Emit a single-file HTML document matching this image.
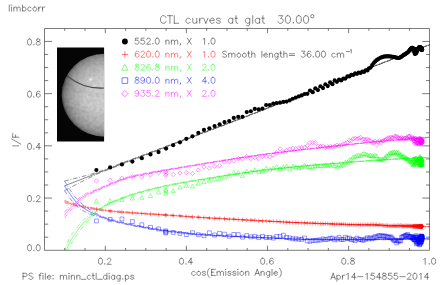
<!DOCTYPE html>
<html><head><meta charset="utf-8"><title>CTL curves</title>
<style>html,body{margin:0;padding:0;background:#fff;}body{width:443px;height:285px;overflow:hidden;font-family:"Liberation Sans",sans-serif;}svg{display:block}</style>
</head><body>
<svg width="443" height="285" viewBox="0 0 443 285">
<rect width="443" height="285" fill="#fff"/>
<defs>
<radialGradient id="pg" gradientUnits="userSpaceOnUse" cx="105" cy="95.2" r="42.6">
<stop offset="0" stop-color="#d3d3d3"/><stop offset="0.45" stop-color="#c8c8c8"/><stop offset="0.7" stop-color="#b0b0b0"/><stop offset="0.86" stop-color="#939393"/><stop offset="0.95" stop-color="#777777"/><stop offset="1" stop-color="#4c4c4c"/>
</radialGradient>
<clipPath id="ic"><rect x="57" y="47.6" width="47.1" height="93.9"/></clipPath>
<clipPath id="dc"><ellipse cx="104.6" cy="95.2" rx="42.9" ry="41.5"/></clipPath>
<filter id="nz" x="0" y="0" width="100%" height="100%"><feTurbulence type="fractalNoise" baseFrequency="0.28" numOctaves="3" seed="5"/><feColorMatrix type="matrix" values="0 0 0 0 1  0 0 0 0 1  0 0 0 0 1  1.6 0 0 0 -0.55"/></filter>
<filter id="nz2" x="0" y="0" width="100%" height="100%"><feTurbulence type="fractalNoise" baseFrequency="0.3" numOctaves="3" seed="11"/><feColorMatrix type="matrix" values="0 0 0 0 0  0 0 0 0 0  0 0 0 0 0  0 1.6 0 0 -0.55"/></filter>
</defs>
<g clip-path="url(#ic)">
<rect x="56" y="47" width="50" height="96" fill="#050505"/>
<ellipse cx="104.6" cy="95.2" rx="42.9" ry="41.5" fill="url(#pg)"/>
<g clip-path="url(#dc)">
<rect x="57" y="47" width="48" height="95" filter="url(#nz)" opacity="0.13"/>
<rect x="57" y="47" width="48" height="95" filter="url(#nz2)" opacity="0.11"/>
<path d="M62 70 Q80 86 106 88.6 L106 50 L62 50Z" fill="#fff" opacity="0.05"/>
<path d="M62 82 Q84 96.5 106 95" stroke="#000" stroke-width="5" fill="none" opacity="0.03"/>
<path d="M60 104 Q84 117 106 116" stroke="#000" stroke-width="6" fill="none" opacity="0.025"/>
<path d="M62 93 Q84 107 106 105.5" stroke="#fff" stroke-width="5" fill="none" opacity="0.04"/>
<path d="M66.6 75.6 Q84 89.6 105 88" stroke="#424242" stroke-width="1.15" fill="none"/>
<circle cx="90.6" cy="79.4" r="1.7" fill="#f4f4f4" opacity="0.45"/><circle cx="90.6" cy="79.4" r="0.9" fill="#f6f6f6" opacity="0.8"/>
</g></g>
<path d="M44.5 28.5H429.5V250.3H44.5ZM64.73 250.25v-2.25M64.73 28.65v2.25M85.01 250.25v-2.25M85.01 28.65v2.25M105.29 250.25v-4.5M105.29 28.65v4.5M125.57 250.25v-2.25M125.57 28.65v2.25M145.85 250.25v-2.25M145.85 28.65v2.25M166.12 250.25v-2.25M166.12 28.65v2.25M186.4 250.25v-4.5M186.4 28.65v4.5M206.68 250.25v-2.25M206.68 28.65v2.25M226.96 250.25v-2.25M226.96 28.65v2.25M247.24 250.25v-2.25M247.24 28.65v2.25M267.52 250.25v-4.5M267.52 28.65v4.5M287.8 250.25v-2.25M287.8 28.65v2.25M308.08 250.25v-2.25M308.08 28.65v2.25M328.36 250.25v-2.25M328.36 28.65v2.25M348.63 250.25v-4.5M348.63 28.65v4.5M368.91 250.25v-2.25M368.91 28.65v2.25M389.19 250.25v-2.25M389.19 28.65v2.25M409.47 250.25v-2.25M409.47 28.65v2.25M44.45 237.2h3.75M429.75 237.2h-3.75M44.45 224.15h3.75M429.75 224.15h-3.75M44.45 211.1h3.75M429.75 211.1h-3.75M44.45 198.05h7.5M429.75 198.05h-7.5M44.45 185h3.75M429.75 185h-3.75M44.45 171.95h3.75M429.75 171.95h-3.75M44.45 158.9h3.75M429.75 158.9h-3.75M44.45 145.85h7.5M429.75 145.85h-7.5M44.45 132.8h3.75M429.75 132.8h-3.75M44.45 119.75h3.75M429.75 119.75h-3.75M44.45 106.7h3.75M429.75 106.7h-3.75M44.45 93.65h7.5M429.75 93.65h-7.5M44.45 80.6h3.75M429.75 80.6h-3.75M44.45 67.55h3.75M429.75 67.55h-3.75M44.45 54.5h3.75M429.75 54.5h-3.75M44.45 41.45h7.5M429.75 41.45h-7.5" stroke="#2a2a2a" stroke-width="0.62" fill="none"/>
<path d="M29.25 244.73L28.38 245.02L27.81 245.89L27.52 247.33L27.52 248.2L27.81 249.64L28.38 250.51L29.25 250.8L29.83 250.8L30.7 250.51L31.27 249.64L31.56 248.2L31.56 247.33L31.27 245.89L30.7 245.02L29.83 244.73L29.25 244.73M33.88 250.22L33.59 250.51L33.88 250.8L34.16 250.51L33.88 250.22M37.92 244.73L37.05 245.02L36.48 245.89L36.19 247.33L36.19 248.2L36.48 249.64L37.05 250.51L37.92 250.8L38.5 250.8L39.37 250.51L39.94 249.64L40.23 248.2L40.23 247.33L39.94 245.89L39.37 245.02L38.5 244.73L37.92 244.73" stroke="#2a2a2a" stroke-width="0.56" fill="none" stroke-linecap="round" stroke-linejoin="round"/>
<path d="M29.25 195.58L28.38 195.87L27.81 196.74L27.52 198.18L27.52 199.05L27.81 200.49L28.38 201.36L29.25 201.65L29.83 201.65L30.7 201.36L31.27 200.49L31.56 199.05L31.56 198.18L31.27 196.74L30.7 195.87L29.83 195.58L29.25 195.58M33.88 201.07L33.59 201.36L33.88 201.65L34.16 201.36L33.88 201.07M36.48 197.03L36.48 196.74L36.77 196.16L37.05 195.87L37.63 195.58L38.79 195.58L39.37 195.87L39.66 196.16L39.94 196.74L39.94 197.31L39.66 197.89L39.08 198.76L36.19 201.65L40.23 201.65" stroke="#2a2a2a" stroke-width="0.56" fill="none" stroke-linecap="round" stroke-linejoin="round"/>
<path d="M29.25 143.38L28.38 143.67L27.81 144.54L27.52 145.98L27.52 146.85L27.81 148.29L28.38 149.16L29.25 149.45L29.83 149.45L30.7 149.16L31.27 148.29L31.56 146.85L31.56 145.98L31.27 144.54L30.7 143.67L29.83 143.38L29.25 143.38M33.88 148.87L33.59 149.16L33.88 149.45L34.16 149.16L33.88 148.87M39.08 143.38L36.19 147.43L40.52 147.43M39.08 143.38L39.08 149.45" stroke="#2a2a2a" stroke-width="0.56" fill="none" stroke-linecap="round" stroke-linejoin="round"/>
<path d="M29.25 91.18L28.38 91.47L27.81 92.34L27.52 93.78L27.52 94.65L27.81 96.09L28.38 96.96L29.25 97.25L29.83 97.25L30.7 96.96L31.27 96.09L31.56 94.65L31.56 93.78L31.27 92.34L30.7 91.47L29.83 91.18L29.25 91.18M33.88 96.67L33.59 96.96L33.88 97.25L34.16 96.96L33.88 96.67M39.94 92.05L39.66 91.47L38.79 91.18L38.21 91.18L37.34 91.47L36.77 92.34L36.48 93.78L36.48 95.23L36.77 96.38L37.34 96.96L38.21 97.25L38.5 97.25L39.37 96.96L39.94 96.38L40.23 95.52L40.23 95.23L39.94 94.36L39.37 93.78L38.5 93.49L38.21 93.49L37.34 93.78L36.77 94.36L36.48 95.23" stroke="#2a2a2a" stroke-width="0.56" fill="none" stroke-linecap="round" stroke-linejoin="round"/>
<path d="M29.25 38.98L28.38 39.27L27.81 40.14L27.52 41.58L27.52 42.45L27.81 43.89L28.38 44.76L29.25 45.05L29.83 45.05L30.7 44.76L31.27 43.89L31.56 42.45L31.56 41.58L31.27 40.14L30.7 39.27L29.83 38.98L29.25 38.98M33.88 44.47L33.59 44.76L33.88 45.05L34.16 44.76L33.88 44.47M37.63 38.98L36.77 39.27L36.48 39.85L36.48 40.43L36.77 41L37.34 41.29L38.5 41.58L39.37 41.87L39.94 42.45L40.23 43.03L40.23 43.89L39.94 44.47L39.66 44.76L38.79 45.05L37.63 45.05L36.77 44.76L36.48 44.47L36.19 43.89L36.19 43.03L36.48 42.45L37.05 41.87L37.92 41.58L39.08 41.29L39.66 41L39.94 40.43L39.94 39.85L39.66 39.27L38.79 38.98L37.63 38.98" stroke="#2a2a2a" stroke-width="0.56" fill="none" stroke-linecap="round" stroke-linejoin="round"/>
<path d="M100.16 258.23L99.3 258.52L98.72 259.39L98.43 260.83L98.43 261.7L98.72 263.14L99.3 264.01L100.16 264.3L100.74 264.3L101.61 264.01L102.19 263.14L102.48 261.7L102.48 260.83L102.19 259.39L101.61 258.52L100.74 258.23L100.16 258.23M104.79 263.72L104.5 264.01L104.79 264.3L105.08 264.01L104.79 263.72M107.39 259.68L107.39 259.39L107.68 258.81L107.97 258.52L108.54 258.23L109.7 258.23L110.28 258.52L110.57 258.81L110.86 259.39L110.86 259.97L110.57 260.54L109.99 261.41L107.1 264.3L111.15 264.3" stroke="#2a2a2a" stroke-width="0.56" fill="none" stroke-linecap="round" stroke-linejoin="round"/>
<path d="M181.28 258.23L180.41 258.52L179.83 259.39L179.55 260.83L179.55 261.7L179.83 263.14L180.41 264.01L181.28 264.3L181.86 264.3L182.72 264.01L183.3 263.14L183.59 261.7L183.59 260.83L183.3 259.39L182.72 258.52L181.86 258.23L181.28 258.23M185.9 263.72L185.61 264.01L185.9 264.3L186.19 264.01L185.9 263.72M191.11 258.23L188.22 262.28L192.55 262.28M191.11 258.23L191.11 264.3" stroke="#2a2a2a" stroke-width="0.56" fill="none" stroke-linecap="round" stroke-linejoin="round"/>
<path d="M262.39 258.23L261.53 258.52L260.95 259.39L260.66 260.83L260.66 261.7L260.95 263.14L261.53 264.01L262.39 264.3L262.97 264.3L263.84 264.01L264.42 263.14L264.71 261.7L264.71 260.83L264.42 259.39L263.84 258.52L262.97 258.23L262.39 258.23M267.02 263.72L266.73 264.01L267.02 264.3L267.31 264.01L267.02 263.72M273.09 259.1L272.8 258.52L271.93 258.23L271.35 258.23L270.49 258.52L269.91 259.39L269.62 260.83L269.62 262.28L269.91 263.43L270.49 264.01L271.35 264.3L271.64 264.3L272.51 264.01L273.09 263.43L273.38 262.57L273.38 262.28L273.09 261.41L272.51 260.83L271.64 260.54L271.35 260.54L270.49 260.83L269.91 261.41L269.62 262.28" stroke="#2a2a2a" stroke-width="0.56" fill="none" stroke-linecap="round" stroke-linejoin="round"/>
<path d="M343.51 258.23L342.64 258.52L342.07 259.39L341.78 260.83L341.78 261.7L342.07 263.14L342.64 264.01L343.51 264.3L344.09 264.3L344.96 264.01L345.53 263.14L345.82 261.7L345.82 260.83L345.53 259.39L344.96 258.52L344.09 258.23L343.51 258.23M348.13 263.72L347.85 264.01L348.13 264.3L348.42 264.01L348.13 263.72M351.89 258.23L351.02 258.52L350.74 259.1L350.74 259.68L351.02 260.25L351.6 260.54L352.76 260.83L353.63 261.12L354.2 261.7L354.49 262.28L354.49 263.14L354.2 263.72L353.91 264.01L353.05 264.3L351.89 264.3L351.02 264.01L350.74 263.72L350.45 263.14L350.45 262.28L350.74 261.7L351.31 261.12L352.18 260.83L353.34 260.54L353.91 260.25L354.2 259.68L354.2 259.1L353.91 258.52L353.05 258.23L351.89 258.23" stroke="#2a2a2a" stroke-width="0.56" fill="none" stroke-linecap="round" stroke-linejoin="round"/>
<path d="M423.76 259.39L424.34 259.1L425.2 258.23L425.2 264.3M429.25 263.72L428.96 264.01L429.25 264.3L429.54 264.01L429.25 263.72M433.3 258.23L432.43 258.52L431.85 259.39L431.56 260.83L431.56 261.7L431.85 263.14L432.43 264.01L433.3 264.3L433.87 264.3L434.74 264.01L435.32 263.14L435.61 261.7L435.61 260.83L435.32 259.39L434.74 258.52L433.87 258.23L433.3 258.23" stroke="#2a2a2a" stroke-width="0.56" fill="none" stroke-linecap="round" stroke-linejoin="round"/>
<path d="M9.26 5.03L9.26 11.1M11.28 5.03L11.57 5.32L11.86 5.03L11.57 4.74L11.28 5.03M11.57 7.05L11.57 11.1M13.88 7.05L13.88 11.1M13.88 8.21L14.75 7.34L15.32 7.05L16.19 7.05L16.77 7.34L17.06 8.21L17.06 11.1M17.06 8.21L17.93 7.34L18.5 7.05L19.37 7.05L19.95 7.34L20.24 8.21L20.24 11.1M22.55 5.03L22.55 11.1M22.55 7.92L23.13 7.34L23.71 7.05L24.57 7.05L25.15 7.34L25.73 7.92L26.02 8.79L26.02 9.37L25.73 10.23L25.15 10.81L24.57 11.1L23.71 11.1L23.13 10.81L22.55 10.23M31.22 7.92L30.64 7.34L30.06 7.05L29.2 7.05L28.62 7.34L28.04 7.92L27.75 8.79L27.75 9.37L28.04 10.23L28.62 10.81L29.2 11.1L30.06 11.1L30.64 10.81L31.22 10.23M34.4 7.05L33.82 7.34L33.24 7.92L32.95 8.79L32.95 9.37L33.24 10.23L33.82 10.81L34.4 11.1L35.27 11.1L35.84 10.81L36.42 10.23L36.71 9.37L36.71 8.79L36.42 7.92L35.84 7.34L35.27 7.05L34.4 7.05M38.73 7.05L38.73 11.1M38.73 8.79L39.02 7.92L39.6 7.34L40.18 7.05L41.05 7.05M42.49 7.05L42.49 11.1M42.49 8.79L42.78 7.92L43.36 7.34L43.94 7.05L44.8 7.05" stroke="#2a2a2a" stroke-width="0.56" fill="none" stroke-linecap="round" stroke-linejoin="round"/>
<path d="M165.93 17.49L165.57 16.77L164.84 16.04L164.12 15.68L162.67 15.68L161.94 16.04L161.22 16.77L160.85 17.49L160.49 18.58L160.49 20.4L160.85 21.48L161.22 22.21L161.94 22.94L162.67 23.3L164.12 23.3L164.84 22.94L165.57 22.21L165.93 21.48M169.93 15.68L169.93 23.3M167.39 15.68L172.47 15.68M174.28 15.68L174.28 23.3M174.28 23.3L178.64 23.3M190.25 19.31L189.53 18.58L188.8 18.22L187.71 18.22L186.99 18.58L186.26 19.31L185.9 20.4L185.9 21.12L186.26 22.21L186.99 22.94L187.71 23.3L188.8 23.3L189.53 22.94L190.25 22.21M192.8 18.22L192.8 21.85L193.16 22.94L193.88 23.3L194.97 23.3L195.7 22.94L196.79 21.85M196.79 18.22L196.79 23.3M199.69 18.22L199.69 23.3M199.69 20.4L200.06 19.31L200.78 18.58L201.51 18.22L202.6 18.22M203.69 18.22L205.86 23.3M208.04 18.22L205.86 23.3M209.86 20.4L214.21 20.4L214.21 19.67L213.85 18.94L213.49 18.58L212.76 18.22L211.67 18.22L210.95 18.58L210.22 19.31L209.86 20.4L209.86 21.12L210.22 22.21L210.95 22.94L211.67 23.3L212.76 23.3L213.49 22.94L214.21 22.21M220.38 19.31L220.02 18.58L218.93 18.22L217.84 18.22L216.75 18.58L216.39 19.31L216.75 20.03L217.48 20.4L219.3 20.76L220.02 21.12L220.38 21.85L220.38 22.21L220.02 22.94L218.93 23.3L217.84 23.3L216.75 22.94L216.39 22.21M232.73 18.22L232.73 23.3M232.73 19.31L232 18.58L231.27 18.22L230.19 18.22L229.46 18.58L228.73 19.31L228.37 20.4L228.37 21.12L228.73 22.21L229.46 22.94L230.19 23.3L231.27 23.3L232 22.94L232.73 22.21M235.99 15.68L235.99 21.85L236.36 22.94L237.08 23.3L237.81 23.3M234.9 18.22L237.44 18.22M249.79 18.22L249.79 24.03L249.42 25.12L249.06 25.48L248.34 25.84L247.25 25.84L246.52 25.48M249.79 19.31L249.06 18.58L248.34 18.22L247.25 18.22L246.52 18.58L245.79 19.31L245.43 20.4L245.43 21.12L245.79 22.21L246.52 22.94L247.25 23.3L248.34 23.3L249.06 22.94L249.79 22.21M252.69 15.68L252.69 23.3M259.59 18.22L259.59 23.3M259.59 19.31L258.86 18.58L258.14 18.22L257.05 18.22L256.32 18.58L255.6 19.31L255.23 20.4L255.23 21.12L255.6 22.21L256.32 22.94L257.05 23.3L258.14 23.3L258.86 22.94L259.59 22.21M262.86 15.68L262.86 21.85L263.22 22.94L263.94 23.3L264.67 23.3M261.77 18.22L264.31 18.22M278.83 15.68L282.82 15.68L280.64 18.58L281.73 18.58L282.46 18.94L282.82 19.31L283.18 20.4L283.18 21.12L282.82 22.21L282.09 22.94L281 23.3L279.92 23.3L278.83 22.94L278.46 22.57L278.1 21.85M287.54 15.68L286.45 16.04L285.72 17.13L285.36 18.94L285.36 20.03L285.72 21.85L286.45 22.94L287.54 23.3L288.26 23.3L289.35 22.94L290.08 21.85L290.44 20.03L290.44 18.94L290.08 17.13L289.35 16.04L288.26 15.68L287.54 15.68M293.35 22.57L292.98 22.94L293.35 23.3L293.71 22.94L293.35 22.57M298.43 15.68L297.34 16.04L296.61 17.13L296.25 18.94L296.25 20.03L296.61 21.85L297.34 22.94L298.43 23.3L299.15 23.3L300.24 22.94L300.97 21.85L301.33 20.03L301.33 18.94L300.97 17.13L300.24 16.04L299.15 15.68L298.43 15.68M305.69 15.68L304.6 16.04L303.87 17.13L303.51 18.94L303.51 20.03L303.87 21.85L304.6 22.94L305.69 23.3L306.41 23.3L307.5 22.94L308.23 21.85L308.59 20.03L308.59 18.94L308.23 17.13L307.5 16.04L306.41 15.68L305.69 15.68" stroke="#2a2a2a" stroke-width="0.56" fill="none" stroke-linecap="round" stroke-linejoin="round"/>
<circle cx="312.3" cy="16.3" r="1.65" stroke="#2a2a2a" stroke-width="0.56" fill="none"/>
<path d="M12.73 145.88L18.8 145.88M11.58 138.94L20.82 144.15M12.73 137.21L18.8 137.21M12.73 137.21L12.73 133.45M15.62 137.21L15.62 134.9" stroke="#2a2a2a" stroke-width="0.56" fill="none" stroke-linecap="round" stroke-linejoin="round"/>
<path d="M195.13 272.22L194.55 271.64L193.97 271.35L193.11 271.35L192.53 271.64L191.95 272.22L191.66 273.09L191.66 273.67L191.95 274.53L192.53 275.11L193.11 275.4L193.97 275.4L194.55 275.11L195.13 274.53M198.31 271.35L197.73 271.64L197.15 272.22L196.86 273.09L196.86 273.67L197.15 274.53L197.73 275.11L198.31 275.4L199.17 275.4L199.75 275.11L200.33 274.53L200.62 273.67L200.62 273.09L200.33 272.22L199.75 271.64L199.17 271.35L198.31 271.35M205.53 272.22L205.24 271.64L204.38 271.35L203.51 271.35L202.64 271.64L202.35 272.22L202.64 272.8L203.22 273.09L204.67 273.38L205.24 273.67L205.53 274.24L205.53 274.53L205.24 275.11L204.38 275.4L203.51 275.4L202.64 275.11L202.35 274.53M209.58 268.17L209 268.75L208.42 269.62L207.84 270.78L207.56 272.22L207.56 273.38L207.84 274.82L208.42 275.98L209 276.84L209.58 277.42M211.6 269.33L211.6 275.4M211.6 269.33L215.36 269.33M211.6 272.22L213.91 272.22M211.6 275.4L215.36 275.4M217.09 271.35L217.09 275.4M217.09 272.51L217.96 271.64L218.54 271.35L219.4 271.35L219.98 271.64L220.27 272.51L220.27 275.4M220.27 272.51L221.14 271.64L221.72 271.35L222.58 271.35L223.16 271.64L223.45 272.51L223.45 275.4M225.47 269.33L225.76 269.62L226.05 269.33L225.76 269.04L225.47 269.33M225.76 271.35L225.76 275.4M230.96 272.22L230.68 271.64L229.81 271.35L228.94 271.35L228.07 271.64L227.79 272.22L228.07 272.8L228.65 273.09L230.1 273.38L230.68 273.67L230.96 274.24L230.96 274.53L230.68 275.11L229.81 275.4L228.94 275.4L228.07 275.11L227.79 274.53M235.88 272.22L235.59 271.64L234.72 271.35L233.85 271.35L232.99 271.64L232.7 272.22L232.99 272.8L233.57 273.09L235.01 273.38L235.59 273.67L235.88 274.24L235.88 274.53L235.59 275.11L234.72 275.4L233.85 275.4L232.99 275.11L232.7 274.53M237.61 269.33L237.9 269.62L238.19 269.33L237.9 269.04L237.61 269.33M237.9 271.35L237.9 275.4M241.37 271.35L240.79 271.64L240.21 272.22L239.92 273.09L239.92 273.67L240.21 274.53L240.79 275.11L241.37 275.4L242.24 275.4L242.81 275.11L243.39 274.53L243.68 273.67L243.68 273.09L243.39 272.22L242.81 271.64L242.24 271.35L241.37 271.35M245.7 271.35L245.7 275.4M245.7 272.51L246.57 271.64L247.15 271.35L248.02 271.35L248.59 271.64L248.88 272.51L248.88 275.4M257.26 269.33L254.95 275.4M257.26 269.33L259.58 275.4M255.82 273.38L258.71 273.38M261.02 271.35L261.02 275.4M261.02 272.51L261.89 271.64L262.47 271.35L263.33 271.35L263.91 271.64L264.2 272.51L264.2 275.4M269.69 271.35L269.69 275.98L269.4 276.84L269.11 277.13L268.53 277.42L267.67 277.42L267.09 277.13M269.69 272.22L269.11 271.64L268.53 271.35L267.67 271.35L267.09 271.64L266.51 272.22L266.22 273.09L266.22 273.67L266.51 274.53L267.09 275.11L267.67 275.4L268.53 275.4L269.11 275.11L269.69 274.53M272 269.33L272 275.4M274.03 273.09L277.49 273.09L277.49 272.51L277.2 271.93L276.92 271.64L276.34 271.35L275.47 271.35L274.89 271.64L274.31 272.22L274.03 273.09L274.03 273.67L274.31 274.53L274.89 275.11L275.47 275.4L276.34 275.4L276.92 275.11L277.49 274.53M279.23 268.17L279.81 268.75L280.38 269.62L280.96 270.78L281.25 272.22L281.25 273.38L280.96 274.82L280.38 275.98L279.81 276.84L279.23 277.42" stroke="#2a2a2a" stroke-width="0.56" fill="none" stroke-linecap="round" stroke-linejoin="round"/>
<path d="M23.06 273.23L23.06 279.3M23.06 273.23L25.66 273.23L26.52 273.52L26.81 273.81L27.1 274.39L27.1 275.25L26.81 275.83L26.52 276.12L25.66 276.41L23.06 276.41M32.88 274.1L32.3 273.52L31.44 273.23L30.28 273.23L29.41 273.52L28.84 274.1L28.84 274.68L29.12 275.25L29.41 275.54L29.99 275.83L31.73 276.41L32.3 276.7L32.59 276.99L32.88 277.57L32.88 278.43L32.3 279.01L31.44 279.3L30.28 279.3L29.41 279.01L28.84 278.43M41.26 273.23L40.69 273.23L40.11 273.52L39.82 274.39L39.82 279.3M38.95 275.25L40.97 275.25M42.71 273.23L43 273.52L43.29 273.23L43 272.94L42.71 273.23M43 275.25L43 279.3M45.31 273.23L45.31 279.3M47.33 276.99L50.8 276.99L50.8 276.41L50.51 275.83L50.22 275.54L49.64 275.25L48.78 275.25L48.2 275.54L47.62 276.12L47.33 276.99L47.33 277.57L47.62 278.43L48.2 279.01L48.78 279.3L49.64 279.3L50.22 279.01L50.8 278.43M53.11 275.25L52.82 275.54L53.11 275.83L53.4 275.54L53.11 275.25M53.11 278.72L52.82 279.01L53.11 279.3L53.4 279.01L53.11 278.72M60.34 275.25L60.34 279.3M60.34 276.41L61.2 275.54L61.78 275.25L62.65 275.25L63.23 275.54L63.52 276.41L63.52 279.3M63.52 276.41L64.38 275.54L64.96 275.25L65.83 275.25L66.41 275.54L66.69 276.41L66.69 279.3M68.72 273.23L69.01 273.52L69.3 273.23L69.01 272.94L68.72 273.23M69.01 275.25L69.01 279.3M71.32 275.25L71.32 279.3M71.32 276.41L72.19 275.54L72.76 275.25L73.63 275.25L74.21 275.54L74.5 276.41L74.5 279.3M76.81 275.25L76.81 279.3M76.81 276.41L77.68 275.54L78.25 275.25L79.12 275.25L79.7 275.54L79.99 276.41L79.99 279.3M81.43 279.3L86.06 279.3M90.68 276.12L90.1 275.54L89.53 275.25L88.66 275.25L88.08 275.54L87.5 276.12L87.21 276.99L87.21 277.57L87.5 278.43L88.08 279.01L88.66 279.3L89.53 279.3L90.1 279.01L90.68 278.43M92.99 273.23L92.99 278.14L93.28 279.01L93.86 279.3L94.44 279.3M92.13 275.25L94.15 275.25M96.17 273.23L96.17 279.3M97.62 279.3L102.24 279.3M106.87 273.23L106.87 279.3M106.87 276.12L106.29 275.54L105.71 275.25L104.84 275.25L104.26 275.54L103.69 276.12L103.4 276.99L103.4 277.57L103.69 278.43L104.26 279.01L104.84 279.3L105.71 279.3L106.29 279.01L106.87 278.43M108.89 273.23L109.18 273.52L109.47 273.23L109.18 272.94L108.89 273.23M109.18 275.25L109.18 279.3M114.67 275.25L114.67 279.3M114.67 276.12L114.09 275.54L113.51 275.25L112.65 275.25L112.07 275.54L111.49 276.12L111.2 276.99L111.2 277.57L111.49 278.43L112.07 279.01L112.65 279.3L113.51 279.3L114.09 279.01L114.67 278.43M120.16 275.25L120.16 279.88L119.87 280.75L119.58 281.03L119 281.32L118.14 281.32L117.56 281.03M120.16 276.12L119.58 275.54L119 275.25L118.14 275.25L117.56 275.54L116.98 276.12L116.69 276.99L116.69 277.57L116.98 278.43L117.56 279.01L118.14 279.3L119 279.3L119.58 279.01L120.16 278.43M122.76 278.72L122.47 279.01L122.76 279.3L123.05 279.01L122.76 278.72M125.36 275.25L125.36 281.32M125.36 276.12L125.94 275.54L126.52 275.25L127.38 275.25L127.96 275.54L128.54 276.12L128.83 276.99L128.83 277.57L128.54 278.43L127.96 279.01L127.38 279.3L126.52 279.3L125.94 279.01L125.36 278.43M133.74 276.12L133.45 275.54L132.59 275.25L131.72 275.25L130.85 275.54L130.56 276.12L130.85 276.7L131.43 276.99L132.88 277.28L133.45 277.57L133.74 278.14L133.74 278.43L133.45 279.01L132.59 279.3L131.72 279.3L130.85 279.01L130.56 278.43" stroke="#2a2a2a" stroke-width="0.56" fill="none" stroke-linecap="round" stroke-linejoin="round"/>
<path d="M333.16 273.23L330.85 279.3M333.16 273.23L335.48 279.3M331.72 277.28L334.61 277.28M336.92 275.25L336.92 281.32M336.92 276.12L337.5 275.54L338.08 275.25L338.94 275.25L339.52 275.54L340.1 276.12L340.39 276.99L340.39 277.57L340.1 278.43L339.52 279.01L338.94 279.3L338.08 279.3L337.5 279.01L336.92 278.43M342.41 275.25L342.41 279.3M342.41 276.99L342.7 276.12L343.28 275.54L343.86 275.25L344.72 275.25M346.75 274.39L347.32 274.1L348.19 273.23L348.19 279.3M354.55 273.23L351.66 277.28L355.99 277.28M354.55 273.23L354.55 279.3M357.73 276.7L362.93 276.7M365.82 274.39L366.4 274.1L367.26 273.23L367.26 279.3M374.2 273.23L371.31 273.23L371.02 275.83L371.31 275.54L372.18 275.25L373.05 275.25L373.91 275.54L374.49 276.12L374.78 276.99L374.78 277.57L374.49 278.43L373.91 279.01L373.05 279.3L372.18 279.3L371.31 279.01L371.02 278.72L370.73 278.14M379.4 273.23L376.51 277.28L380.85 277.28M379.4 273.23L379.4 279.3M383.74 273.23L382.87 273.52L382.58 274.1L382.58 274.68L382.87 275.25L383.45 275.54L384.61 275.83L385.47 276.12L386.05 276.7L386.34 277.28L386.34 278.14L386.05 278.72L385.76 279.01L384.89 279.3L383.74 279.3L382.87 279.01L382.58 278.72L382.29 278.14L382.29 277.28L382.58 276.7L383.16 276.12L384.03 275.83L385.18 275.54L385.76 275.25L386.05 274.68L386.05 274.1L385.76 273.52L384.89 273.23L383.74 273.23M391.54 273.23L388.65 273.23L388.36 275.83L388.65 275.54L389.52 275.25L390.38 275.25L391.25 275.54L391.83 276.12L392.12 276.99L392.12 277.57L391.83 278.43L391.25 279.01L390.38 279.3L389.52 279.3L388.65 279.01L388.36 278.72L388.07 278.14M397.32 273.23L394.43 273.23L394.14 275.83L394.43 275.54L395.3 275.25L396.17 275.25L397.03 275.54L397.61 276.12L397.9 276.99L397.9 277.57L397.61 278.43L397.03 279.01L396.17 279.3L395.3 279.3L394.43 279.01L394.14 278.72L393.85 278.14M399.92 276.7L405.12 276.7M407.44 274.68L407.44 274.39L407.73 273.81L408.01 273.52L408.59 273.23L409.75 273.23L410.33 273.52L410.62 273.81L410.9 274.39L410.9 274.97L410.62 275.54L410.04 276.41L407.15 279.3L411.19 279.3M414.66 273.23L413.79 273.52L413.22 274.39L412.93 275.83L412.93 276.7L413.22 278.14L413.79 279.01L414.66 279.3L415.24 279.3L416.11 279.01L416.68 278.14L416.97 276.7L416.97 275.83L416.68 274.39L416.11 273.52L415.24 273.23L414.66 273.23M419.57 274.39L420.15 274.1L421.02 273.23L421.02 279.3M427.38 273.23L424.49 277.28L428.82 277.28M427.38 273.23L427.38 279.3" stroke="#2a2a2a" stroke-width="0.56" fill="none" stroke-linecap="round" stroke-linejoin="round"/>
<clipPath id="pc"><rect x="44.45" y="28.65" width="385.3" height="221.6"/></clipPath>
<g clip-path="url(#pc)">
<path d="M64.5 185.84L66.5 185.07L68.5 184.29L70.5 183.52L72.5 182.75L74.5 181.98L76.5 181.2L78.5 180.43L80.5 179.66L82.5 178.89L84.5 178.12L86.5 177.34L88.5 176.57L90.5 175.8L92.5 175.03L94.5 174.25L96.5 173.48L98.5 172.71L100.5 171.94L102.5 171.17L104.5 170.4L106.5 169.63L108.5 168.85L110.5 168.08L112.5 167.31L114.5 166.54L116.5 165.77L118.5 165L120.5 164.23L122.5 163.46L124.5 162.69L126.5 161.92L128.5 161.15L130.5 160.39L132.5 159.62L134.5 158.85L136.5 158.08L138.5 157.32L140.5 156.55L142.5 155.78L144.5 155.02L146.5 154.25L148.5 153.49L150.5 152.72L152.5 151.96L154.5 151.2L156.5 150.43L158.5 149.67L160.5 148.91L162.5 148.15L164.5 147.39L166.5 146.63L168.5 145.87L170.5 145.11L172.5 144.35L174.5 143.6L176.5 142.84L178.5 142.08L180.5 141.33L182.5 140.57L184.5 139.82L186.5 139.06L188.5 138.31L190.5 137.55L192.5 136.8L194.5 136.05L196.5 135.29L198.5 134.54L200.5 133.79L202.5 133.03L204.5 132.28L206.5 131.53L208.5 130.77L210.5 130.02L212.5 129.27L214.5 128.51L216.5 127.76L218.5 127L220.5 126.25L222.5 125.49L224.5 124.73L226.5 123.97L228.5 123.21L230.5 122.45L232.5 121.69L234.5 120.93L236.5 120.17L238.5 119.4L240.5 118.63L242.5 117.87L244.5 117.1L246.5 116.33L248.5 115.56L250.5 114.79L252.5 114.01L254.5 113.24L256.5 112.46L258.5 111.68L260.5 110.91L262.5 110.13L264.5 109.34L266.5 108.56L268.5 107.78L270.5 106.99L272.5 106.21L274.5 105.42L276.5 104.64L278.5 103.85L280.5 103.06L282.5 102.27L284.5 101.48L286.5 100.69L288.5 99.9L290.5 99.11L292.5 98.32L294.5 97.52L296.5 96.73L298.5 95.94L300.5 95.15L302.5 94.35L304.5 93.56L306.5 92.77L308.5 91.98L310.5 91.19L312.5 90.4L314.5 89.61L316.5 88.81L318.5 88.02L320.5 87.24L322.5 86.45L324.5 85.66L326.5 84.87L328.5 84.08L330.5 83.3L332.5 82.51L334.5 81.72L336.5 80.94L338.5 80.15L340.5 79.37L342.5 78.59L344.5 77.8L346.5 77.02L348.5 76.24L350.5 75.46L352.5 74.68L354.5 73.9L356.5 73.12L358.5 72.34L360.5 71.56L362.5 70.78L364.5 70L366.5 69.23L368.5 68.45L370.5 67.67L372.5 66.9L374.5 66.12L376.5 65.34L378.5 64.57L380.5 63.79L382.5 63.02L384.5 62.24L386.5 61.47L388.5 60.69L390.5 59.92L392.5 59.14L394.5 58.37L396.5 57.6L398.5 56.82L400.5 56.05L402.5 55.28L404.5 54.5L406.5 53.73L408.5 52.96L410.5 52.18L412.5 51.41L414.5 50.64L416.5 49.86L418.5 49.09L420.5 48.32L422.5 47.54L424.5 46.77L426.5 46L428.5 45.23L429.75 44.74" stroke="#000000" stroke-width="0.48" fill="none"/>
<path d="M64.5 190.66L66.5 189.59L68.5 188.53L70.5 187.47L72.5 186.42L74.5 185.37L76.5 184.33L78.5 183.3L80.5 182.28L82.5 181.26L84.5 180.25L86.5 179.25L88.5 178.26L90.5 177.28L92.5 176.32L94.5 175.37L96.5 174.43L98.5 173.53L100.5 172.69L102.5 171.91L104.5 171.13L106.5 170.36L108.5 169.58L110.5 168.8L112.5 168.02L114.5 167.25L116.5 166.47L118.5 165.69L120.5 164.92L122.5 164.14L124.5 163.37L126.5 162.59L128.5 161.82L130.5 161.04L132.5 160.27L134.5 159.49L136.5 158.72L138.5 157.94L140.5 157.17L142.5 156.4L144.5 155.63L146.5 154.86L148.5 154.09L150.5 153.31L152.5 152.54L154.5 151.78L156.5 151.01L158.5 150.24L160.5 149.47L162.5 148.7L164.5 147.94L166.5 147.17L168.5 146.41L170.5 145.64L172.5 144.88L174.5 144.11L176.5 143.35L178.5 142.59L180.5 141.82L182.5 141.06L184.5 140.3L186.5 139.54L188.5 138.78L190.5 138.02L192.5 137.26L194.5 136.5L196.5 135.74L198.5 134.98L200.5 134.22L202.5 133.46L204.5 132.7L206.5 131.94L208.5 131.18L210.5 130.42L212.5 129.66L214.5 128.9L216.5 128.14L218.5 127.38L220.5 126.62L222.5 125.86L224.5 125.09L226.5 124.33L228.5 123.56L230.5 122.79L232.5 122.03L234.5 121.26L236.5 120.49L238.5 119.72L240.5 118.95L242.5 118.17L244.5 117.4L246.5 116.62L248.5 115.84L250.5 115.07L252.5 114.29L254.5 113.51L256.5 112.72L258.5 111.94L260.5 111.16L262.5 110.38L264.5 109.59L266.5 108.81L268.5 108.03L270.5 107.24L272.5 106.46L274.5 105.67L276.5 104.89L278.5 104.1L280.5 103.31L282.5 102.52L284.5 101.73L286.5 100.94L288.5 100.15L290.5 99.36L292.5 98.57L294.5 97.77L296.5 96.98L298.5 96.19L300.5 95.4L302.5 94.6L304.5 93.81L306.5 93.02L308.5 92.23L310.5 91.44L312.5 90.65L314.5 89.86L316.5 89.06L318.5 88.27L320.5 87.49L322.5 86.7L324.5 85.91L326.5 85.12L328.5 84.33L330.5 83.55L332.5 82.76L334.5 81.97L336.5 81.19L338.5 80.4L340.5 79.62L342.5 78.84L344.5 78.05L346.5 77.27L348.5 76.49L350.5 75.71L352.5 74.93L354.5 74.15L356.5 73.37L358.5 72.59L360.5 71.81L362.5 71.03L364.5 70.25L366.5 69.48L368.5 68.7L370.5 67.92L372.5 67.15L374.5 66.37L376.5 65.59L378.5 64.82L380.5 64.04L382.5 63.27L384.5 62.49L386.5 61.72L388.5 60.94L390.5 60.17L392.5 59.39L394.5 58.62L396.5 57.85L398.5 57.07L400.5 56.3L402.5 55.53L404.5 54.75L406.5 53.98L408.5 53.21L410.5 52.43L412.5 51.66L414.5 50.89L416.5 50.11L418.5 49.34L420.5 48.57L422.5 47.79L424.5 47.02L426.5 46.25L428.5 45.48L429.75 44.99" stroke="#000000" stroke-width="0.45" fill="none" stroke-dasharray="4.5 1.8 0.8 1.8"/>
<path d="M64.5 181.02L66.5 180.54L68.5 180.06L70.5 179.57L72.5 179.08L74.5 178.58L76.5 178.07L78.5 177.56L80.5 177.04L82.5 176.51L84.5 175.98L86.5 175.43L88.5 174.88L90.5 174.32L92.5 173.74L94.5 173.14L96.5 172.53L98.5 171.89L100.5 171.19L102.5 170.43L104.5 169.66L106.5 168.9L108.5 168.13L110.5 167.37L112.5 166.6L114.5 165.84L116.5 165.07L118.5 164.31L120.5 163.55L122.5 162.78L124.5 162.02L126.5 161.26L128.5 160.49L130.5 159.73L132.5 158.97L134.5 158.21L136.5 157.45L138.5 156.69L140.5 155.93L142.5 155.17L144.5 154.41L146.5 153.65L148.5 152.89L150.5 152.13L152.5 151.37L154.5 150.62L156.5 149.86L158.5 149.1L160.5 148.35L162.5 147.59L164.5 146.84L166.5 146.09L168.5 145.33L170.5 144.58L172.5 143.83L174.5 143.08L176.5 142.33L178.5 141.58L180.5 140.83L182.5 140.08L184.5 139.33L186.5 138.58L188.5 137.83L190.5 137.09L192.5 136.34L194.5 135.59L196.5 134.84L198.5 134.1L200.5 133.35L202.5 132.6L204.5 131.86L206.5 131.11L208.5 130.36L210.5 129.62L212.5 128.87L214.5 128.12L216.5 127.37L218.5 126.62L220.5 125.87L222.5 125.12L224.5 124.37L226.5 123.62L228.5 122.86L230.5 122.11L232.5 121.36L234.5 120.6L236.5 119.84L238.5 119.08L240.5 118.32L242.5 117.56L244.5 116.8L246.5 116.04L248.5 115.27L250.5 114.51L252.5 113.74L254.5 112.97L256.5 112.2L258.5 111.43L260.5 110.66L262.5 109.88L264.5 109.09L266.5 108.31L268.5 107.53L270.5 106.74L272.5 105.96L274.5 105.17L276.5 104.39L278.5 103.6L280.5 102.81L282.5 102.02L284.5 101.23L286.5 100.44L288.5 99.65L290.5 98.86L292.5 98.07L294.5 97.27L296.5 96.48L298.5 95.69L300.5 94.9L302.5 94.1L304.5 93.31L306.5 92.52L308.5 91.73L310.5 90.94L312.5 90.15L314.5 89.36L316.5 88.56L318.5 87.77L320.5 86.99L322.5 86.2L324.5 85.41L326.5 84.62L328.5 83.83L330.5 83.05L332.5 82.26L334.5 81.47L336.5 80.69L338.5 79.9L340.5 79.12L342.5 78.34L344.5 77.55L346.5 76.77L348.5 75.99L350.5 75.21L352.5 74.43L354.5 73.65L356.5 72.87L358.5 72.09L360.5 71.31L362.5 70.53L364.5 69.75L366.5 68.98L368.5 68.2L370.5 67.42L372.5 66.65L374.5 65.87L376.5 65.09L378.5 64.32L380.5 63.54L382.5 62.77L384.5 61.99L386.5 61.22L388.5 60.44L390.5 59.67L392.5 58.89L394.5 58.12L396.5 57.35L398.5 56.57L400.5 55.8L402.5 55.03L404.5 54.25L406.5 53.48L408.5 52.71L410.5 51.93L412.5 51.16L414.5 50.39L416.5 49.61L418.5 48.84L420.5 48.07L422.5 47.29L424.5 46.52L426.5 45.75L428.5 44.98L429.75 44.49" stroke="#000000" stroke-width="0.45" fill="none" stroke-dasharray="4.5 1.8 0.8 1.8"/>
<path d="M64.5 201.57L66.5 202.26L68.5 202.92L70.5 203.54L72.5 204.13L74.5 204.67L76.5 205.17L78.5 205.64L80.5 206.08L82.5 206.5L84.5 206.9L86.5 207.3L88.5 207.68L90.5 208.05L92.5 208.41L94.5 208.75L96.5 209.08L98.5 209.4L100.5 209.72L102.5 210.02L104.5 210.31L106.5 210.58L108.5 210.83L110.5 211.05L112.5 211.25L114.5 211.44L116.5 211.61L118.5 211.78L120.5 211.94L122.5 212.09L124.5 212.24L126.5 212.39L128.5 212.54L130.5 212.68L132.5 212.82L134.5 212.95L136.5 213.08L138.5 213.21L140.5 213.34L142.5 213.47L144.5 213.6L146.5 213.73L148.5 213.86L150.5 213.99L152.5 214.13L154.5 214.26L156.5 214.39L158.5 214.53L160.5 214.66L162.5 214.79L164.5 214.93L166.5 215.06L168.5 215.2L170.5 215.33L172.5 215.47L174.5 215.6L176.5 215.74L178.5 215.88L180.5 216.03L182.5 216.17L184.5 216.32L186.5 216.46L188.5 216.61L190.5 216.75L192.5 216.9L194.5 217.04L196.5 217.17L198.5 217.3L200.5 217.43L202.5 217.55L204.5 217.67L206.5 217.79L208.5 217.9L210.5 218.01L212.5 218.12L214.5 218.23L216.5 218.34L218.5 218.44L220.5 218.55L222.5 218.66L224.5 218.77L226.5 218.88L228.5 219L230.5 219.11L232.5 219.22L234.5 219.34L236.5 219.45L238.5 219.56L240.5 219.68L242.5 219.79L244.5 219.9L246.5 220.01L248.5 220.12L250.5 220.23L252.5 220.33L254.5 220.44L256.5 220.55L258.5 220.65L260.5 220.76L262.5 220.86L264.5 220.97L266.5 221.07L268.5 221.17L270.5 221.27L272.5 221.37L274.5 221.48L276.5 221.58L278.5 221.68L280.5 221.78L282.5 221.88L284.5 221.98L286.5 222.07L288.5 222.17L290.5 222.27L292.5 222.36L294.5 222.46L296.5 222.55L298.5 222.64L300.5 222.72L302.5 222.81L304.5 222.89L306.5 222.97L308.5 223.05L310.5 223.13L312.5 223.21L314.5 223.29L316.5 223.37L318.5 223.45L320.5 223.52L322.5 223.6L324.5 223.67L326.5 223.74L328.5 223.81L330.5 223.88L332.5 223.95L334.5 224.02L336.5 224.09L338.5 224.15L340.5 224.22L342.5 224.28L344.5 224.34L346.5 224.4L348.5 224.45L350.5 224.51L352.5 224.57L354.5 224.62L356.5 224.67L358.5 224.73L360.5 224.78L362.5 224.83L364.5 224.88L366.5 224.94L368.5 224.99L370.5 225.04L372.5 225.09L374.5 225.15L376.5 225.2L378.5 225.26L380.5 225.31L382.5 225.37L384.5 225.43L386.5 225.49L388.5 225.55L390.5 225.6L392.5 225.66L394.5 225.72L396.5 225.78L398.5 225.84L400.5 225.9L402.5 225.96L404.5 226.02L406.5 226.07L408.5 226.13L410.5 226.19L412.5 226.24L414.5 226.3L416.5 226.35L418.5 226.4L420.5 226.46L422.5 226.51L424.5 226.56L426.5 226.61L428.5 226.67L429.75 226.7" stroke="#ff0000" stroke-width="0.48" fill="none"/>
<path d="M64.5 202.72L66.5 203.38L68.5 204.01L70.5 204.6L72.5 205.16L74.5 205.68L76.5 206.16L78.5 206.6L80.5 207.01L82.5 207.4L84.5 207.79L86.5 208.16L88.5 208.52L90.5 208.87L92.5 209.21L94.5 209.54L96.5 209.85L98.5 210.16L100.5 210.46L102.5 210.76L104.5 211.05L106.5 211.31L108.5 211.55L110.5 211.77L112.5 211.96L114.5 212.14L116.5 212.31L118.5 212.47L120.5 212.62L122.5 212.77L124.5 212.91L126.5 213.06L128.5 213.2L130.5 213.33L132.5 213.46L134.5 213.59L136.5 213.72L138.5 213.84L140.5 213.97L142.5 214.09L144.5 214.21L146.5 214.33L148.5 214.46L150.5 214.59L152.5 214.71L154.5 214.84L156.5 214.97L158.5 215.1L160.5 215.22L162.5 215.35L164.5 215.48L166.5 215.6L168.5 215.73L170.5 215.86L172.5 215.99L174.5 216.12L176.5 216.25L178.5 216.39L180.5 216.52L182.5 216.66L184.5 216.8L186.5 216.94L188.5 217.08L190.5 217.22L192.5 217.36L194.5 217.49L196.5 217.62L198.5 217.75L200.5 217.87L202.5 217.98L204.5 218.1L206.5 218.2L208.5 218.31L210.5 218.42L212.5 218.52L214.5 218.62L216.5 218.72L218.5 218.82L220.5 218.93L222.5 219.03L224.5 219.13L226.5 219.24L228.5 219.35L230.5 219.45L232.5 219.56L234.5 219.67L236.5 219.77L238.5 219.88L240.5 219.99L242.5 220.09L244.5 220.2L246.5 220.3L248.5 220.4L250.5 220.51L252.5 220.61L254.5 220.71L256.5 220.81L258.5 220.91L260.5 221.01L262.5 221.11L264.5 221.22L266.5 221.32L268.5 221.42L270.5 221.52L272.5 221.62L274.5 221.73L276.5 221.83L278.5 221.93L280.5 222.03L282.5 222.13L284.5 222.23L286.5 222.32L288.5 222.42L290.5 222.52L292.5 222.61L294.5 222.71L296.5 222.8L298.5 222.89L300.5 222.97L302.5 223.06L304.5 223.14L306.5 223.22L308.5 223.3L310.5 223.38L312.5 223.46L314.5 223.54L316.5 223.62L318.5 223.7L320.5 223.77L322.5 223.85L324.5 223.92L326.5 223.99L328.5 224.06L330.5 224.13L332.5 224.2L334.5 224.27L336.5 224.34L338.5 224.4L340.5 224.47L342.5 224.53L344.5 224.59L346.5 224.65L348.5 224.7L350.5 224.76L352.5 224.82L354.5 224.87L356.5 224.92L358.5 224.98L360.5 225.03L362.5 225.08L364.5 225.13L366.5 225.19L368.5 225.24L370.5 225.29L372.5 225.34L374.5 225.4L376.5 225.45L378.5 225.51L380.5 225.56L382.5 225.62L384.5 225.68L386.5 225.74L388.5 225.8L390.5 225.85L392.5 225.91L394.5 225.97L396.5 226.03L398.5 226.09L400.5 226.15L402.5 226.21L404.5 226.27L406.5 226.32L408.5 226.38L410.5 226.44L412.5 226.49L414.5 226.55L416.5 226.6L418.5 226.65L420.5 226.71L422.5 226.76L424.5 226.81L426.5 226.86L428.5 226.92L429.75 226.95" stroke="#ff0000" stroke-width="0.45" fill="none" stroke-dasharray="4.5 1.8 0.8 1.8"/>
<path d="M64.5 200.42L66.5 201.14L68.5 201.83L70.5 202.48L72.5 203.09L74.5 203.66L76.5 204.19L78.5 204.68L80.5 205.15L82.5 205.59L84.5 206.01L86.5 206.43L88.5 206.84L90.5 207.23L92.5 207.61L94.5 207.97L96.5 208.31L98.5 208.64L100.5 208.97L102.5 209.28L104.5 209.57L106.5 209.85L108.5 210.11L110.5 210.34L112.5 210.54L114.5 210.74L116.5 210.92L118.5 211.09L120.5 211.25L122.5 211.41L124.5 211.57L126.5 211.72L128.5 211.88L130.5 212.02L132.5 212.17L134.5 212.31L136.5 212.45L138.5 212.58L140.5 212.72L142.5 212.85L144.5 212.99L146.5 213.12L148.5 213.26L150.5 213.4L152.5 213.54L154.5 213.68L156.5 213.82L158.5 213.96L160.5 214.1L162.5 214.24L164.5 214.38L166.5 214.52L168.5 214.66L170.5 214.8L172.5 214.94L174.5 215.09L176.5 215.23L178.5 215.38L180.5 215.53L182.5 215.68L184.5 215.83L186.5 215.98L188.5 216.14L190.5 216.29L192.5 216.44L194.5 216.58L196.5 216.72L198.5 216.86L200.5 217L202.5 217.12L204.5 217.25L206.5 217.37L208.5 217.49L210.5 217.61L212.5 217.72L214.5 217.84L216.5 217.95L218.5 218.06L220.5 218.18L222.5 218.29L224.5 218.41L226.5 218.53L228.5 218.65L230.5 218.77L232.5 218.89L234.5 219.01L236.5 219.13L238.5 219.25L240.5 219.36L242.5 219.48L244.5 219.6L246.5 219.72L248.5 219.83L250.5 219.95L252.5 220.06L254.5 220.17L256.5 220.29L258.5 220.4L260.5 220.51L262.5 220.61L264.5 220.72L266.5 220.82L268.5 220.92L270.5 221.02L272.5 221.12L274.5 221.23L276.5 221.33L278.5 221.43L280.5 221.53L282.5 221.63L284.5 221.73L286.5 221.82L288.5 221.92L290.5 222.02L292.5 222.11L294.5 222.21L296.5 222.3L298.5 222.39L300.5 222.47L302.5 222.56L304.5 222.64L306.5 222.72L308.5 222.8L310.5 222.88L312.5 222.96L314.5 223.04L316.5 223.12L318.5 223.2L320.5 223.27L322.5 223.35L324.5 223.42L326.5 223.49L328.5 223.56L330.5 223.63L332.5 223.7L334.5 223.77L336.5 223.84L338.5 223.9L340.5 223.97L342.5 224.03L344.5 224.09L346.5 224.15L348.5 224.2L350.5 224.26L352.5 224.32L354.5 224.37L356.5 224.42L358.5 224.48L360.5 224.53L362.5 224.58L364.5 224.63L366.5 224.69L368.5 224.74L370.5 224.79L372.5 224.84L374.5 224.9L376.5 224.95L378.5 225.01L380.5 225.06L382.5 225.12L384.5 225.18L386.5 225.24L388.5 225.3L390.5 225.35L392.5 225.41L394.5 225.47L396.5 225.53L398.5 225.59L400.5 225.65L402.5 225.71L404.5 225.77L406.5 225.82L408.5 225.88L410.5 225.94L412.5 225.99L414.5 226.05L416.5 226.1L418.5 226.15L420.5 226.21L422.5 226.26L424.5 226.31L426.5 226.36L428.5 226.42L429.75 226.45" stroke="#ff0000" stroke-width="0.45" fill="none" stroke-dasharray="4.5 1.8 0.8 1.8"/>
<path d="M64.5 256.34L66.5 250.29L68.5 244.81L70.5 240.58L72.5 237.47L74.5 234.7L76.5 231.88L78.5 229.14L80.5 226.53L82.5 224.13L84.5 221.93L86.5 219.86L88.5 217.93L90.5 216.13L92.5 214.45L94.5 212.87L96.5 211.38L98.5 209.98L100.5 208.63L102.5 207.33L104.5 206.1L106.5 204.97L108.5 203.95L110.5 202.98L112.5 202.06L114.5 201.18L116.5 200.34L118.5 199.53L120.5 198.75L122.5 198L124.5 197.28L126.5 196.58L128.5 195.9L130.5 195.24L132.5 194.6L134.5 193.98L136.5 193.37L138.5 192.78L140.5 192.21L142.5 191.64L144.5 191.1L146.5 190.56L148.5 190.04L150.5 189.53L152.5 189.02L154.5 188.53L156.5 188.05L158.5 187.58L160.5 187.12L162.5 186.67L164.5 186.23L166.5 185.8L168.5 185.38L170.5 184.97L172.5 184.57L174.5 184.17L176.5 183.79L178.5 183.41L180.5 183.05L182.5 182.7L184.5 182.35L186.5 182.02L188.5 181.69L190.5 181.36L192.5 181.03L194.5 180.71L196.5 180.38L198.5 180.05L200.5 179.72L202.5 179.38L204.5 179.04L206.5 178.7L208.5 178.37L210.5 178.03L212.5 177.69L214.5 177.36L216.5 177.03L218.5 176.7L220.5 176.37L222.5 176.05L224.5 175.73L226.5 175.41L228.5 175.09L230.5 174.78L232.5 174.46L234.5 174.15L236.5 173.84L238.5 173.54L240.5 173.23L242.5 172.94L244.5 172.65L246.5 172.36L248.5 172.08L250.5 171.81L252.5 171.55L254.5 171.29L256.5 171.04L258.5 170.8L260.5 170.56L262.5 170.32L264.5 170.08L266.5 169.85L268.5 169.63L270.5 169.4L272.5 169.18L274.5 168.96L276.5 168.73L278.5 168.51L280.5 168.29L282.5 168.08L284.5 167.86L286.5 167.65L288.5 167.44L290.5 167.23L292.5 167.03L294.5 166.83L296.5 166.63L298.5 166.44L300.5 166.25L302.5 166.07L304.5 165.89L306.5 165.71L308.5 165.54L310.5 165.37L312.5 165.2L314.5 165.03L316.5 164.86L318.5 164.7L320.5 164.54L322.5 164.38L324.5 164.22L326.5 164.06L328.5 163.9L330.5 163.74L332.5 163.59L334.5 163.43L336.5 163.27L338.5 163.12L340.5 162.96L342.5 162.8L344.5 162.64L346.5 162.49L348.5 162.33L350.5 162.17L352.5 162.01L354.5 161.85L356.5 161.69L358.5 161.54L360.5 161.38L362.5 161.23L364.5 161.08L366.5 160.93L368.5 160.78L370.5 160.64L372.5 160.5L374.5 160.36L376.5 160.23L378.5 160.1L380.5 159.97L382.5 159.84L384.5 159.72L386.5 159.6L388.5 159.49L390.5 159.37L392.5 159.26L394.5 159.14L396.5 159.04L398.5 158.93L400.5 158.82L402.5 158.72L404.5 158.62L406.5 158.52L408.5 158.42L410.5 158.32L412.5 158.23L414.5 158.14L416.5 158.05L418.5 157.96L420.5 157.87L422.5 157.79L424.5 157.71L426.5 157.63L428.5 157.55L429.75 157.5" stroke="#00ff00" stroke-width="0.48" fill="none"/>
<path d="M64.5 261.27L66.5 255.02L68.5 249.34L70.5 244.91L72.5 241.58L74.5 238.61L76.5 235.58L78.5 232.62L80.5 229.8L82.5 227.17L84.5 224.74L86.5 222.45L88.5 220.29L90.5 218.25L92.5 216.31L94.5 214.48L96.5 212.72L98.5 211.01L100.5 209.38L102.5 208.07L104.5 206.84L106.5 205.7L108.5 204.67L110.5 203.7L112.5 202.77L114.5 201.88L116.5 201.03L118.5 200.22L120.5 199.44L122.5 198.68L124.5 197.96L126.5 197.25L128.5 196.56L130.5 195.9L132.5 195.25L134.5 194.62L136.5 194.01L138.5 193.41L140.5 192.83L142.5 192.26L144.5 191.71L146.5 191.17L148.5 190.64L150.5 190.12L152.5 189.61L154.5 189.11L156.5 188.63L158.5 188.15L160.5 187.68L162.5 187.23L164.5 186.78L166.5 186.34L168.5 185.92L170.5 185.5L172.5 185.09L174.5 184.69L176.5 184.3L178.5 183.92L180.5 183.55L182.5 183.19L184.5 182.84L186.5 182.5L188.5 182.16L190.5 181.83L192.5 181.49L194.5 181.16L196.5 180.83L198.5 180.49L200.5 180.15L202.5 179.81L204.5 179.46L206.5 179.12L208.5 178.78L210.5 178.43L212.5 178.09L214.5 177.75L216.5 177.41L218.5 177.08L220.5 176.74L222.5 176.41L224.5 176.09L226.5 175.77L228.5 175.44L230.5 175.12L232.5 174.8L234.5 174.48L236.5 174.17L238.5 173.85L240.5 173.55L242.5 173.24L244.5 172.94L246.5 172.65L248.5 172.37L250.5 172.09L252.5 171.82L254.5 171.56L256.5 171.3L258.5 171.05L260.5 170.81L262.5 170.57L264.5 170.33L266.5 170.1L268.5 169.88L270.5 169.65L272.5 169.43L274.5 169.21L276.5 168.98L278.5 168.76L280.5 168.54L282.5 168.33L284.5 168.11L286.5 167.9L288.5 167.69L290.5 167.48L292.5 167.28L294.5 167.08L296.5 166.88L298.5 166.69L300.5 166.5L302.5 166.32L304.5 166.14L306.5 165.96L308.5 165.79L310.5 165.62L312.5 165.45L314.5 165.28L316.5 165.11L318.5 164.95L320.5 164.79L322.5 164.63L324.5 164.47L326.5 164.31L328.5 164.15L330.5 163.99L332.5 163.84L334.5 163.68L336.5 163.52L338.5 163.37L340.5 163.21L342.5 163.05L344.5 162.89L346.5 162.74L348.5 162.58L350.5 162.42L352.5 162.26L354.5 162.1L356.5 161.94L358.5 161.79L360.5 161.63L362.5 161.48L364.5 161.33L366.5 161.18L368.5 161.03L370.5 160.89L372.5 160.75L374.5 160.61L376.5 160.48L378.5 160.35L380.5 160.22L382.5 160.09L384.5 159.97L386.5 159.85L388.5 159.74L390.5 159.62L392.5 159.51L394.5 159.39L396.5 159.29L398.5 159.18L400.5 159.07L402.5 158.97L404.5 158.87L406.5 158.77L408.5 158.67L410.5 158.57L412.5 158.48L414.5 158.39L416.5 158.3L418.5 158.21L420.5 158.12L422.5 158.04L424.5 157.96L426.5 157.88L428.5 157.8L429.75 157.75" stroke="#00ff00" stroke-width="0.45" fill="none" stroke-dasharray="4.5 1.8 0.8 1.8"/>
<path d="M64.5 251.41L66.5 245.56L68.5 240.29L70.5 236.26L72.5 233.35L74.5 230.79L76.5 228.19L78.5 225.66L80.5 223.27L82.5 221.09L84.5 219.11L86.5 217.28L88.5 215.58L90.5 214.02L92.5 212.58L94.5 211.26L96.5 210.05L98.5 208.94L100.5 207.88L102.5 206.59L104.5 205.37L106.5 204.24L108.5 203.22L110.5 202.26L112.5 201.35L114.5 200.47L116.5 199.64L118.5 198.84L120.5 198.07L122.5 197.32L124.5 196.61L126.5 195.92L128.5 195.24L130.5 194.59L132.5 193.95L134.5 193.34L136.5 192.74L138.5 192.15L140.5 191.58L142.5 191.03L144.5 190.49L146.5 189.96L148.5 189.44L150.5 188.93L152.5 188.44L154.5 187.95L156.5 187.48L158.5 187.01L160.5 186.56L162.5 186.12L164.5 185.68L166.5 185.26L168.5 184.84L170.5 184.44L172.5 184.04L174.5 183.65L176.5 183.27L178.5 182.91L180.5 182.55L182.5 182.21L184.5 181.87L186.5 181.54L188.5 181.21L190.5 180.89L192.5 180.57L194.5 180.25L196.5 179.93L198.5 179.61L200.5 179.28L202.5 178.95L204.5 178.62L206.5 178.29L208.5 177.95L210.5 177.62L212.5 177.29L214.5 176.97L216.5 176.64L218.5 176.32L220.5 176L222.5 175.68L224.5 175.37L226.5 175.06L228.5 174.75L230.5 174.44L232.5 174.13L234.5 173.82L236.5 173.52L238.5 173.22L240.5 172.92L242.5 172.63L244.5 172.35L246.5 172.07L248.5 171.8L250.5 171.53L252.5 171.28L254.5 171.03L256.5 170.78L258.5 170.54L260.5 170.31L262.5 170.07L264.5 169.83L266.5 169.6L268.5 169.38L270.5 169.15L272.5 168.93L274.5 168.71L276.5 168.48L278.5 168.26L280.5 168.04L282.5 167.83L284.5 167.61L286.5 167.4L288.5 167.19L290.5 166.98L292.5 166.78L294.5 166.58L296.5 166.38L298.5 166.19L300.5 166L302.5 165.82L304.5 165.64L306.5 165.46L308.5 165.29L310.5 165.12L312.5 164.95L314.5 164.78L316.5 164.61L318.5 164.45L320.5 164.29L322.5 164.13L324.5 163.97L326.5 163.81L328.5 163.65L330.5 163.49L332.5 163.34L334.5 163.18L336.5 163.02L338.5 162.87L340.5 162.71L342.5 162.55L344.5 162.39L346.5 162.24L348.5 162.08L350.5 161.92L352.5 161.76L354.5 161.6L356.5 161.44L358.5 161.29L360.5 161.13L362.5 160.98L364.5 160.83L366.5 160.68L368.5 160.53L370.5 160.39L372.5 160.25L374.5 160.11L376.5 159.98L378.5 159.85L380.5 159.72L382.5 159.59L384.5 159.47L386.5 159.35L388.5 159.24L390.5 159.12L392.5 159.01L394.5 158.89L396.5 158.79L398.5 158.68L400.5 158.57L402.5 158.47L404.5 158.37L406.5 158.27L408.5 158.17L410.5 158.07L412.5 157.98L414.5 157.89L416.5 157.8L418.5 157.71L420.5 157.62L422.5 157.54L424.5 157.46L426.5 157.38L428.5 157.3L429.75 157.25" stroke="#00ff00" stroke-width="0.45" fill="none" stroke-dasharray="4.5 1.8 0.8 1.8"/>
<path d="M64.5 185.72L66.5 188.85L68.5 191.85L70.5 194.7L72.5 197.5L74.5 200.11L76.5 202.34L78.5 204.24L80.5 205.88L82.5 207.34L84.5 208.68L86.5 209.93L88.5 211.09L90.5 212.15L92.5 213.11L94.5 213.99L96.5 214.82L98.5 215.62L100.5 216.42L102.5 217.23L104.5 218L106.5 218.71L108.5 219.34L110.5 219.93L112.5 220.49L114.5 221.02L116.5 221.53L118.5 222.01L120.5 222.48L122.5 222.94L124.5 223.39L126.5 223.83L128.5 224.26L130.5 224.68L132.5 225.09L134.5 225.49L136.5 225.88L138.5 226.26L140.5 226.63L142.5 227L144.5 227.35L146.5 227.7L148.5 228.05L150.5 228.38L152.5 228.72L154.5 229.04L156.5 229.37L158.5 229.68L160.5 229.99L162.5 230.3L164.5 230.6L166.5 230.88L168.5 231.16L170.5 231.43L172.5 231.69L174.5 231.94L176.5 232.18L178.5 232.41L180.5 232.64L182.5 232.86L184.5 233.08L186.5 233.29L188.5 233.49L190.5 233.68L192.5 233.87L194.5 234.05L196.5 234.22L198.5 234.38L200.5 234.54L202.5 234.68L204.5 234.82L206.5 234.95L208.5 235.08L210.5 235.21L212.5 235.33L214.5 235.44L216.5 235.55L218.5 235.66L220.5 235.77L222.5 235.87L224.5 235.97L226.5 236.08L228.5 236.17L230.5 236.27L232.5 236.36L234.5 236.45L236.5 236.53L238.5 236.62L240.5 236.7L242.5 236.79L244.5 236.87L246.5 236.95L248.5 237.04L250.5 237.12L252.5 237.2L254.5 237.28L256.5 237.36L258.5 237.44L260.5 237.52L262.5 237.6L264.5 237.68L266.5 237.76L268.5 237.84L270.5 237.92L272.5 238L274.5 238.08L276.5 238.17L278.5 238.26L280.5 238.36L282.5 238.46L284.5 238.57L286.5 238.68L288.5 238.78L290.5 238.88L292.5 238.97L294.5 239.05L296.5 239.11L298.5 239.17L300.5 239.21L302.5 239.24L304.5 239.27L306.5 239.31L308.5 239.34L310.5 239.37L312.5 239.39L314.5 239.42L316.5 239.45L318.5 239.47L320.5 239.49L322.5 239.51L324.5 239.53L326.5 239.55L328.5 239.56L330.5 239.57L332.5 239.58L334.5 239.59L336.5 239.6L338.5 239.6L340.5 239.6L342.5 239.6L344.5 239.6L346.5 239.6L348.5 239.59L350.5 239.59L352.5 239.59L354.5 239.58L356.5 239.58L358.5 239.57L360.5 239.57L362.5 239.56L364.5 239.56L366.5 239.55L368.5 239.54L370.5 239.54L372.5 239.53L374.5 239.52L376.5 239.51L378.5 239.51L380.5 239.5L382.5 239.49L384.5 239.48L386.5 239.46L388.5 239.45L390.5 239.43L392.5 239.41L394.5 239.39L396.5 239.36L398.5 239.34L400.5 239.31L402.5 239.29L404.5 239.26L406.5 239.23L408.5 239.2L410.5 239.16L412.5 239.13L414.5 239.09L416.5 239.06L418.5 239.02L420.5 238.98L422.5 238.95L424.5 238.91L426.5 238.87L428.5 238.83L429.75 238.8" stroke="#0000ff" stroke-width="0.48" fill="none"/>
<path d="M64.5 190.55L66.5 193.49L68.5 196.29L70.5 198.94L72.5 201.53L74.5 203.94L76.5 205.97L78.5 207.65L80.5 209.08L82.5 210.33L84.5 211.45L86.5 212.47L88.5 213.4L90.5 214.23L92.5 214.95L94.5 215.58L96.5 216.14L98.5 216.65L100.5 217.17L102.5 217.97L104.5 218.73L106.5 219.44L108.5 220.06L110.5 220.64L112.5 221.2L114.5 221.72L116.5 222.22L118.5 222.71L120.5 223.17L122.5 223.62L124.5 224.06L126.5 224.5L128.5 224.92L130.5 225.33L132.5 225.73L134.5 226.13L136.5 226.51L138.5 226.89L140.5 227.26L142.5 227.61L144.5 227.97L146.5 228.31L148.5 228.65L150.5 228.98L152.5 229.3L154.5 229.62L156.5 229.94L158.5 230.25L160.5 230.56L162.5 230.85L164.5 231.14L166.5 231.43L168.5 231.7L170.5 231.96L172.5 232.22L174.5 232.46L176.5 232.69L178.5 232.92L180.5 233.14L182.5 233.35L184.5 233.56L186.5 233.77L188.5 233.96L190.5 234.15L192.5 234.33L194.5 234.51L196.5 234.67L198.5 234.83L200.5 234.97L202.5 235.11L204.5 235.24L206.5 235.37L208.5 235.49L210.5 235.61L212.5 235.72L214.5 235.83L216.5 235.94L218.5 236.04L220.5 236.14L222.5 236.24L224.5 236.34L226.5 236.43L228.5 236.52L230.5 236.61L232.5 236.69L234.5 236.78L236.5 236.86L238.5 236.94L240.5 237.02L242.5 237.09L244.5 237.17L246.5 237.25L248.5 237.32L250.5 237.4L252.5 237.48L254.5 237.55L256.5 237.63L258.5 237.7L260.5 237.77L262.5 237.85L264.5 237.93L266.5 238.01L268.5 238.09L270.5 238.17L272.5 238.25L274.5 238.33L276.5 238.42L278.5 238.51L280.5 238.61L282.5 238.71L284.5 238.82L286.5 238.93L288.5 239.03L290.5 239.13L292.5 239.22L294.5 239.3L296.5 239.36L298.5 239.42L300.5 239.46L302.5 239.49L304.5 239.52L306.5 239.56L308.5 239.59L310.5 239.62L312.5 239.64L314.5 239.67L316.5 239.7L318.5 239.72L320.5 239.74L322.5 239.76L324.5 239.78L326.5 239.8L328.5 239.81L330.5 239.82L332.5 239.83L334.5 239.84L336.5 239.85L338.5 239.85L340.5 239.85L342.5 239.85L344.5 239.85L346.5 239.85L348.5 239.84L350.5 239.84L352.5 239.84L354.5 239.83L356.5 239.83L358.5 239.82L360.5 239.82L362.5 239.81L364.5 239.81L366.5 239.8L368.5 239.79L370.5 239.79L372.5 239.78L374.5 239.77L376.5 239.76L378.5 239.76L380.5 239.75L382.5 239.74L384.5 239.73L386.5 239.71L388.5 239.7L390.5 239.68L392.5 239.66L394.5 239.64L396.5 239.61L398.5 239.59L400.5 239.56L402.5 239.54L404.5 239.51L406.5 239.48L408.5 239.45L410.5 239.41L412.5 239.38L414.5 239.34L416.5 239.31L418.5 239.27L420.5 239.23L422.5 239.2L424.5 239.16L426.5 239.12L428.5 239.08L429.75 239.05" stroke="#0000ff" stroke-width="0.45" fill="none" stroke-dasharray="4.5 1.8 0.8 1.8"/>
<path d="M64.5 180.89L66.5 184.22L68.5 187.41L70.5 190.47L72.5 193.47L74.5 196.28L76.5 198.72L78.5 200.82L80.5 202.67L82.5 204.36L84.5 205.91L86.5 207.38L88.5 208.77L90.5 210.07L92.5 211.27L94.5 212.4L96.5 213.5L98.5 214.59L100.5 215.68L102.5 216.48L104.5 217.26L106.5 217.98L108.5 218.61L110.5 219.21L112.5 219.78L114.5 220.31L116.5 220.83L118.5 221.32L120.5 221.8L122.5 222.26L124.5 222.72L126.5 223.16L128.5 223.6L130.5 224.02L132.5 224.44L134.5 224.84L136.5 225.24L138.5 225.63L140.5 226.01L142.5 226.38L144.5 226.74L146.5 227.1L148.5 227.45L150.5 227.79L152.5 228.13L154.5 228.46L156.5 228.79L158.5 229.12L160.5 229.43L162.5 229.74L164.5 230.05L166.5 230.34L168.5 230.63L170.5 230.9L172.5 231.17L174.5 231.42L176.5 231.67L178.5 231.91L180.5 232.14L182.5 232.37L184.5 232.59L186.5 232.81L188.5 233.02L190.5 233.22L192.5 233.41L194.5 233.6L196.5 233.77L198.5 233.94L200.5 234.1L202.5 234.25L204.5 234.4L206.5 234.54L208.5 234.67L210.5 234.8L212.5 234.93L214.5 235.05L216.5 235.17L218.5 235.28L220.5 235.39L222.5 235.5L224.5 235.61L226.5 235.72L228.5 235.82L230.5 235.92L232.5 236.02L234.5 236.12L236.5 236.21L238.5 236.3L240.5 236.39L242.5 236.48L244.5 236.57L246.5 236.66L248.5 236.75L250.5 236.84L252.5 236.93L254.5 237.02L256.5 237.1L258.5 237.19L260.5 237.27L262.5 237.35L264.5 237.43L266.5 237.51L268.5 237.59L270.5 237.67L272.5 237.75L274.5 237.83L276.5 237.92L278.5 238.01L280.5 238.11L282.5 238.21L284.5 238.32L286.5 238.43L288.5 238.53L290.5 238.63L292.5 238.72L294.5 238.8L296.5 238.86L298.5 238.92L300.5 238.96L302.5 238.99L304.5 239.02L306.5 239.06L308.5 239.09L310.5 239.12L312.5 239.14L314.5 239.17L316.5 239.2L318.5 239.22L320.5 239.24L322.5 239.26L324.5 239.28L326.5 239.3L328.5 239.31L330.5 239.32L332.5 239.33L334.5 239.34L336.5 239.35L338.5 239.35L340.5 239.35L342.5 239.35L344.5 239.35L346.5 239.35L348.5 239.34L350.5 239.34L352.5 239.34L354.5 239.33L356.5 239.33L358.5 239.32L360.5 239.32L362.5 239.31L364.5 239.31L366.5 239.3L368.5 239.29L370.5 239.29L372.5 239.28L374.5 239.27L376.5 239.26L378.5 239.26L380.5 239.25L382.5 239.24L384.5 239.23L386.5 239.21L388.5 239.2L390.5 239.18L392.5 239.16L394.5 239.14L396.5 239.11L398.5 239.09L400.5 239.06L402.5 239.04L404.5 239.01L406.5 238.98L408.5 238.95L410.5 238.91L412.5 238.88L414.5 238.84L416.5 238.81L418.5 238.77L420.5 238.73L422.5 238.7L424.5 238.66L426.5 238.62L428.5 238.58L429.75 238.55" stroke="#0000ff" stroke-width="0.45" fill="none" stroke-dasharray="4.5 1.8 0.8 1.8"/>
<path d="M64.5 215.23L66.5 212.61L68.5 210.18L70.5 207.97L72.5 205.96L74.5 204.09L76.5 202.26L78.5 200.4L80.5 198.6L82.5 197.03L84.5 195.78L86.5 194.7L88.5 193.73L90.5 192.84L92.5 191.99L94.5 191.13L96.5 190.23L98.5 189.31L100.5 188.41L102.5 187.52L104.5 186.64L106.5 185.78L108.5 184.94L110.5 184.11L112.5 183.28L114.5 182.44L116.5 181.62L118.5 180.83L120.5 180.08L122.5 179.38L124.5 178.74L126.5 178.16L128.5 177.61L130.5 177.1L132.5 176.6L134.5 176.13L136.5 175.68L138.5 175.24L140.5 174.82L142.5 174.4L144.5 174L146.5 173.6L148.5 173.21L150.5 172.82L152.5 172.43L154.5 172.06L156.5 171.69L158.5 171.34L160.5 170.99L162.5 170.65L164.5 170.31L166.5 169.98L168.5 169.65L170.5 169.31L172.5 168.98L174.5 168.64L176.5 168.3L178.5 167.95L180.5 167.61L182.5 167.27L184.5 166.92L186.5 166.58L188.5 166.24L190.5 165.9L192.5 165.56L194.5 165.22L196.5 164.88L198.5 164.55L200.5 164.22L202.5 163.89L204.5 163.56L206.5 163.23L208.5 162.9L210.5 162.57L212.5 162.25L214.5 161.93L216.5 161.6L218.5 161.28L220.5 160.96L222.5 160.64L224.5 160.33L226.5 160.01L228.5 159.69L230.5 159.38L232.5 159.06L234.5 158.75L236.5 158.44L238.5 158.13L240.5 157.82L242.5 157.51L244.5 157.21L246.5 156.91L248.5 156.61L250.5 156.31L252.5 156.02L254.5 155.73L256.5 155.45L258.5 155.16L260.5 154.87L262.5 154.59L264.5 154.31L266.5 154.04L268.5 153.77L270.5 153.5L272.5 153.24L274.5 152.98L276.5 152.72L278.5 152.48L280.5 152.23L282.5 152L284.5 151.76L286.5 151.53L288.5 151.3L290.5 151.07L292.5 150.85L294.5 150.62L296.5 150.4L298.5 150.17L300.5 149.94L302.5 149.71L304.5 149.49L306.5 149.26L308.5 149.03L310.5 148.8L312.5 148.57L314.5 148.34L316.5 148.12L318.5 147.89L320.5 147.66L322.5 147.44L324.5 147.21L326.5 146.99L328.5 146.77L330.5 146.54L332.5 146.32L334.5 146.1L336.5 145.88L338.5 145.66L340.5 145.45L342.5 145.23L344.5 145.01L346.5 144.79L348.5 144.57L350.5 144.35L352.5 144.13L354.5 143.91L356.5 143.69L358.5 143.47L360.5 143.26L362.5 143.04L364.5 142.83L366.5 142.62L368.5 142.42L370.5 142.21L372.5 142.01L374.5 141.82L376.5 141.62L378.5 141.44L380.5 141.25L382.5 141.08L384.5 140.9L386.5 140.73L388.5 140.57L390.5 140.41L392.5 140.25L394.5 140.09L396.5 139.93L398.5 139.78L400.5 139.62L402.5 139.47L404.5 139.31L406.5 139.16L408.5 139L410.5 138.84L412.5 138.68L414.5 138.52L416.5 138.36L418.5 138.2L420.5 138.04L422.5 137.88L424.5 137.72L426.5 137.56L428.5 137.4L429.75 137.3" stroke="#ff00ff" stroke-width="0.48" fill="none"/>
<path d="M64.5 218.16L66.5 215.39L68.5 212.8L70.5 210.43L72.5 208.28L74.5 206.26L76.5 204.29L78.5 202.28L80.5 200.36L82.5 198.65L84.5 197.27L86.5 196.07L88.5 194.99L90.5 193.98L92.5 193.02L94.5 192.07L96.5 191.08L98.5 190.1L100.5 189.16L102.5 188.26L104.5 187.37L106.5 186.51L108.5 185.66L110.5 184.83L112.5 183.99L114.5 183.15L116.5 182.32L118.5 181.53L120.5 180.77L122.5 180.06L124.5 179.41L126.5 178.83L128.5 178.27L130.5 177.75L132.5 177.25L134.5 176.77L136.5 176.31L138.5 175.87L140.5 175.44L142.5 175.02L144.5 174.61L146.5 174.21L148.5 173.81L150.5 173.41L152.5 173.02L154.5 172.64L156.5 172.27L158.5 171.91L160.5 171.55L162.5 171.2L164.5 170.86L166.5 170.52L168.5 170.18L170.5 169.84L172.5 169.5L174.5 169.16L176.5 168.81L178.5 168.46L180.5 168.11L182.5 167.76L184.5 167.41L186.5 167.06L188.5 166.71L190.5 166.36L192.5 166.02L194.5 165.68L196.5 165.33L198.5 164.99L200.5 164.65L202.5 164.32L204.5 163.98L206.5 163.64L208.5 163.31L210.5 162.98L212.5 162.65L214.5 162.32L216.5 161.99L218.5 161.66L220.5 161.34L222.5 161.01L224.5 160.69L226.5 160.37L228.5 160.04L230.5 159.72L232.5 159.4L234.5 159.08L236.5 158.76L238.5 158.44L240.5 158.13L242.5 157.82L244.5 157.51L246.5 157.2L248.5 156.89L250.5 156.59L252.5 156.3L254.5 156L256.5 155.71L258.5 155.41L260.5 155.12L262.5 154.84L264.5 154.56L266.5 154.29L268.5 154.02L270.5 153.75L272.5 153.49L274.5 153.23L276.5 152.97L278.5 152.73L280.5 152.48L282.5 152.25L284.5 152.01L286.5 151.78L288.5 151.55L290.5 151.32L292.5 151.1L294.5 150.87L296.5 150.65L298.5 150.42L300.5 150.19L302.5 149.96L304.5 149.74L306.5 149.51L308.5 149.28L310.5 149.05L312.5 148.82L314.5 148.59L316.5 148.37L318.5 148.14L320.5 147.91L322.5 147.69L324.5 147.46L326.5 147.24L328.5 147.02L330.5 146.79L332.5 146.57L334.5 146.35L336.5 146.13L338.5 145.91L340.5 145.7L342.5 145.48L344.5 145.26L346.5 145.04L348.5 144.82L350.5 144.6L352.5 144.38L354.5 144.16L356.5 143.94L358.5 143.72L360.5 143.51L362.5 143.29L364.5 143.08L366.5 142.87L368.5 142.67L370.5 142.46L372.5 142.26L374.5 142.07L376.5 141.87L378.5 141.69L380.5 141.5L382.5 141.33L384.5 141.15L386.5 140.98L388.5 140.82L390.5 140.66L392.5 140.5L394.5 140.34L396.5 140.18L398.5 140.03L400.5 139.87L402.5 139.72L404.5 139.56L406.5 139.41L408.5 139.25L410.5 139.09L412.5 138.93L414.5 138.77L416.5 138.61L418.5 138.45L420.5 138.29L422.5 138.13L424.5 137.97L426.5 137.81L428.5 137.65L429.75 137.55" stroke="#ff00ff" stroke-width="0.45" fill="none" stroke-dasharray="4.5 1.8 0.8 1.8"/>
<path d="M64.5 212.29L66.5 209.84L68.5 207.56L70.5 205.5L72.5 203.65L74.5 201.92L76.5 200.24L78.5 198.51L80.5 196.85L82.5 195.41L84.5 194.29L86.5 193.33L88.5 192.48L90.5 191.7L92.5 190.95L94.5 190.18L96.5 189.37L98.5 188.53L100.5 187.66L102.5 186.77L104.5 185.9L106.5 185.05L108.5 184.22L110.5 183.39L112.5 182.56L114.5 181.74L116.5 180.93L118.5 180.14L120.5 179.4L122.5 178.7L124.5 178.06L126.5 177.49L128.5 176.95L130.5 176.44L132.5 175.95L134.5 175.49L136.5 175.04L138.5 174.61L140.5 174.19L142.5 173.79L144.5 173.39L146.5 173L148.5 172.61L150.5 172.23L152.5 171.85L154.5 171.48L156.5 171.12L158.5 170.77L160.5 170.43L162.5 170.1L164.5 169.76L166.5 169.44L168.5 169.11L170.5 168.78L172.5 168.45L174.5 168.12L176.5 167.79L178.5 167.45L180.5 167.11L182.5 166.77L184.5 166.44L186.5 166.1L188.5 165.76L190.5 165.43L192.5 165.1L194.5 164.77L196.5 164.44L198.5 164.11L200.5 163.78L202.5 163.46L204.5 163.13L206.5 162.81L208.5 162.49L210.5 162.17L212.5 161.85L214.5 161.53L216.5 161.22L218.5 160.9L220.5 160.59L222.5 160.28L224.5 159.97L226.5 159.66L228.5 159.35L230.5 159.04L232.5 158.73L234.5 158.42L236.5 158.11L238.5 157.81L240.5 157.51L242.5 157.21L244.5 156.91L246.5 156.61L248.5 156.32L250.5 156.03L252.5 155.75L254.5 155.47L256.5 155.18L258.5 154.9L260.5 154.62L262.5 154.34L264.5 154.06L266.5 153.79L268.5 153.52L270.5 153.25L272.5 152.99L274.5 152.73L276.5 152.47L278.5 152.23L280.5 151.98L282.5 151.75L284.5 151.51L286.5 151.28L288.5 151.05L290.5 150.82L292.5 150.6L294.5 150.37L296.5 150.15L298.5 149.92L300.5 149.69L302.5 149.46L304.5 149.24L306.5 149.01L308.5 148.78L310.5 148.55L312.5 148.32L314.5 148.09L316.5 147.87L318.5 147.64L320.5 147.41L322.5 147.19L324.5 146.96L326.5 146.74L328.5 146.52L330.5 146.29L332.5 146.07L334.5 145.85L336.5 145.63L338.5 145.41L340.5 145.2L342.5 144.98L344.5 144.76L346.5 144.54L348.5 144.32L350.5 144.1L352.5 143.88L354.5 143.66L356.5 143.44L358.5 143.22L360.5 143.01L362.5 142.79L364.5 142.58L366.5 142.37L368.5 142.17L370.5 141.96L372.5 141.76L374.5 141.57L376.5 141.37L378.5 141.19L380.5 141L382.5 140.83L384.5 140.65L386.5 140.48L388.5 140.32L390.5 140.16L392.5 140L394.5 139.84L396.5 139.68L398.5 139.53L400.5 139.37L402.5 139.22L404.5 139.06L406.5 138.91L408.5 138.75L410.5 138.59L412.5 138.43L414.5 138.27L416.5 138.11L418.5 137.95L420.5 137.79L422.5 137.63L424.5 137.47L426.5 137.31L428.5 137.15L429.75 137.05" stroke="#ff00ff" stroke-width="0.45" fill="none" stroke-dasharray="4.5 1.8 0.8 1.8"/>
<circle cx="422" cy="49.21" r="2.1" fill="#000"/><circle cx="421.99" cy="49.2" r="2.1" fill="#000"/><circle cx="421.96" cy="49.15" r="2.1" fill="#000"/><circle cx="421.91" cy="49.08" r="2.1" fill="#000"/><circle cx="421.84" cy="48.97" r="2.1" fill="#000"/><circle cx="421.75" cy="48.83" r="2.1" fill="#000"/><circle cx="421.65" cy="48.65" r="2.1" fill="#000"/><circle cx="421.52" cy="48.44" r="2.1" fill="#000"/><circle cx="421.37" cy="48.21" r="2.1" fill="#000"/><circle cx="421.2" cy="47.97" r="2.1" fill="#000"/><circle cx="421.02" cy="47.76" r="2.1" fill="#000"/><circle cx="420.81" cy="47.61" r="2.1" fill="#000"/><circle cx="420.58" cy="47.5" r="2.1" fill="#000"/><circle cx="420.34" cy="47.4" r="2.1" fill="#000"/><circle cx="420.07" cy="47.31" r="2.1" fill="#000"/><circle cx="419.79" cy="47.24" r="2.1" fill="#000"/><circle cx="419.48" cy="47.2" r="2.1" fill="#000"/><circle cx="419.15" cy="47.31" r="2.1" fill="#000"/><circle cx="418.81" cy="47.74" r="2.1" fill="#000"/><circle cx="418.44" cy="48.38" r="2.1" fill="#000"/><circle cx="418.05" cy="49.06" r="2.1" fill="#000"/><circle cx="417.65" cy="49.94" r="2.1" fill="#000"/><circle cx="417.22" cy="50.94" r="2.1" fill="#000"/><circle cx="416.77" cy="51.87" r="2.1" fill="#000"/><circle cx="416.31" cy="52.85" r="2.1" fill="#000"/><circle cx="415.82" cy="53.49" r="2.1" fill="#000"/><circle cx="415.31" cy="53.71" r="2.1" fill="#000"/><circle cx="414.78" cy="53.8" r="2.1" fill="#000"/><circle cx="414.23" cy="51.96" r="2.1" fill="#000"/><circle cx="413.66" cy="49.64" r="2.1" fill="#000"/><circle cx="413.07" cy="48.18" r="2.1" fill="#000"/><circle cx="412.45" cy="47.82" r="2.1" fill="#000"/><circle cx="411.82" cy="47.93" r="2.1" fill="#000"/><circle cx="411.16" cy="48.32" r="2.1" fill="#000"/><circle cx="410.49" cy="49" r="2.1" fill="#000"/><circle cx="409.79" cy="49.89" r="2.1" fill="#000"/><circle cx="409.07" cy="50.8" r="2.1" fill="#000"/><circle cx="408.33" cy="51.75" r="2.1" fill="#000"/><circle cx="407.57" cy="52.49" r="2.1" fill="#000"/><circle cx="406.78" cy="53.07" r="2.1" fill="#000"/><circle cx="405.97" cy="53.59" r="2.1" fill="#000"/><circle cx="405.15" cy="54.13" r="2.1" fill="#000"/><circle cx="404.29" cy="54.67" r="2.1" fill="#000"/><circle cx="403.42" cy="55.22" r="2.1" fill="#000"/><circle cx="402.52" cy="55.86" r="2.1" fill="#000"/><circle cx="401.6" cy="56.59" r="2.1" fill="#000"/><circle cx="400.66" cy="57.2" r="2.1" fill="#000"/><circle cx="399.7" cy="57.76" r="2.1" fill="#000"/><circle cx="398.71" cy="58" r="2.1" fill="#000"/><circle cx="397.69" cy="57.93" r="2.1" fill="#000"/><circle cx="396.66" cy="57.77" r="2.1" fill="#000"/><circle cx="395.6" cy="57.4" r="2.1" fill="#000"/><circle cx="394.51" cy="57.06" r="2.1" fill="#000"/><circle cx="393.4" cy="56.89" r="2.1" fill="#000"/><circle cx="392.27" cy="56.74" r="2.1" fill="#000"/><circle cx="391.11" cy="56.53" r="2.1" fill="#000"/><circle cx="389.93" cy="56.33" r="2.1" fill="#000"/><circle cx="388.72" cy="56.3" r="2.1" fill="#000"/><circle cx="387.49" cy="56.3" r="2.1" fill="#000"/><circle cx="386.23" cy="56.31" r="2.1" fill="#000"/><circle cx="384.94" cy="56.45" r="2.1" fill="#000"/><circle cx="383.63" cy="56.67" r="2.1" fill="#000"/><circle cx="382.29" cy="57.03" r="2.1" fill="#000"/><circle cx="380.93" cy="57.53" r="2.1" fill="#000"/><circle cx="379.53" cy="58.24" r="2.1" fill="#000"/><circle cx="378.11" cy="59.11" r="2.1" fill="#000"/><circle cx="376.67" cy="60.17" r="2.1" fill="#000"/><circle cx="375.19" cy="61.46" r="2.1" fill="#000"/><circle cx="373.69" cy="63.05" r="2.1" fill="#000"/><circle cx="372.15" cy="65.11" r="2.1" fill="#000"/><circle cx="370.59" cy="67.56" r="2.1" fill="#000"/><circle cx="369" cy="68.3" r="2.1" fill="#000"/><circle cx="367.37" cy="70.39" r="2.1" fill="#000"/><circle cx="365.72" cy="70.33" r="2.1" fill="#000"/><circle cx="364.03" cy="71.93" r="2.1" fill="#000"/><circle cx="362.32" cy="71.65" r="2.1" fill="#000"/><circle cx="360.57" cy="73.02" r="2.1" fill="#000"/><circle cx="358.79" cy="72.48" r="2.1" fill="#000"/><circle cx="356.98" cy="73.8" r="2.1" fill="#000"/><circle cx="355.13" cy="73.41" r="2.1" fill="#000"/><circle cx="353.25" cy="74.97" r="2.1" fill="#000"/><circle cx="351.33" cy="74.79" r="2.1" fill="#000"/><circle cx="349.38" cy="76.42" r="2.1" fill="#000"/><circle cx="347.39" cy="76.47" r="2.1" fill="#000"/><circle cx="345.37" cy="78.55" r="2.1" fill="#000"/><circle cx="343.31" cy="78.68" r="2.1" fill="#000"/><circle cx="341.21" cy="80.46" r="2.1" fill="#000"/><circle cx="339.07" cy="79.65" r="2.1" fill="#000"/><circle cx="336.9" cy="81.87" r="2.1" fill="#000"/><circle cx="334.68" cy="80.46" r="2.1" fill="#000"/><circle cx="332.42" cy="84.18" r="2.1" fill="#000"/><circle cx="330.12" cy="82.31" r="2.1" fill="#000"/><circle cx="327.77" cy="86.07" r="2.1" fill="#000"/><circle cx="325.39" cy="84.24" r="2.1" fill="#000"/><circle cx="322.95" cy="88.03" r="2.1" fill="#000"/><circle cx="320.47" cy="86.24" r="2.1" fill="#000"/><circle cx="317.94" cy="90.07" r="2.1" fill="#000"/><circle cx="315.37" cy="88.32" r="2.1" fill="#000"/><circle cx="312.74" cy="92.19" r="2.1" fill="#000"/><circle cx="310.06" cy="90.48" r="2.1" fill="#000"/><circle cx="307.33" cy="93.8" r="2.1" fill="#000"/><circle cx="304.55" cy="93.98" r="2.1" fill="#000"/><circle cx="301.71" cy="95.45" r="2.1" fill="#000"/><circle cx="298.81" cy="96.4" r="2.1" fill="#000"/><circle cx="295.85" cy="97.54" r="2.1" fill="#000"/><circle cx="292.83" cy="98.73" r="2.1" fill="#000"/><circle cx="289.74" cy="100.31" r="2.1" fill="#000"/><circle cx="286.59" cy="101.56" r="2.1" fill="#000"/><circle cx="283.38" cy="101.96" r="2.1" fill="#000"/><circle cx="280.09" cy="102.63" r="2.1" fill="#000"/><circle cx="276.72" cy="103.02" r="2.1" fill="#000"/><circle cx="273.28" cy="103.72" r="2.1" fill="#000"/><circle cx="269.76" cy="105.12" r="2.1" fill="#000"/><circle cx="266.16" cy="105.02" r="2.1" fill="#000"/><circle cx="262.47" cy="108.53" r="2.1" fill="#000"/><circle cx="258.69" cy="109.34" r="2.1" fill="#000"/><circle cx="254.81" cy="108.97" r="2.1" fill="#000"/><circle cx="250.83" cy="111.26" r="2.1" fill="#000"/><circle cx="246.75" cy="112.05" r="2.1" fill="#000"/><circle cx="242.55" cy="116.87" r="2.1" fill="#000"/><circle cx="238.23" cy="116.9" r="2.1" fill="#000"/><circle cx="233.79" cy="117.96" r="2.1" fill="#000"/><circle cx="229.21" cy="121.08" r="2.1" fill="#000"/><circle cx="224.5" cy="122.1" r="2.1" fill="#000"/><circle cx="219.62" cy="124.3" r="2.1" fill="#000"/><circle cx="214.58" cy="126.07" r="2.1" fill="#000"/><circle cx="209.36" cy="128.27" r="2.1" fill="#000"/><circle cx="203.95" cy="129.96" r="2.1" fill="#000"/><circle cx="198.33" cy="132.9" r="2.1" fill="#000"/><circle cx="192.47" cy="136.31" r="2.1" fill="#000"/><circle cx="186.35" cy="138.83" r="2.1" fill="#000"/><circle cx="179.94" cy="142.33" r="2.1" fill="#000"/><circle cx="173.2" cy="145.21" r="2.1" fill="#000"/><circle cx="166.08" cy="148.53" r="2.1" fill="#000"/><circle cx="158.54" cy="152.05" r="2.1" fill="#000"/><circle cx="150.48" cy="154.41" r="2.1" fill="#000"/><circle cx="141.81" cy="158.22" r="2.1" fill="#000"/><circle cx="132.37" cy="161.58" r="2.1" fill="#000"/><circle cx="121.94" cy="164.47" r="2.1" fill="#000"/><circle cx="110.17" cy="167.47" r="2.1" fill="#000"/><circle cx="96.4" cy="170" r="2.1" fill="#000"/><circle cx="421.99" cy="49.8" r="2.1" fill="#000"/><circle cx="421.96" cy="49.79" r="2.1" fill="#000"/><circle cx="421.91" cy="49.77" r="2.1" fill="#000"/><circle cx="421.84" cy="49.74" r="2.1" fill="#000"/><circle cx="421.75" cy="49.7" r="2.1" fill="#000"/><circle cx="421.65" cy="49.63" r="2.1" fill="#000"/><circle cx="421.52" cy="49.55" r="2.1" fill="#000"/><circle cx="421.37" cy="49.43" r="2.1" fill="#000"/><circle cx="421.2" cy="49.3" r="2.1" fill="#000"/><circle cx="421.02" cy="49.14" r="2.1" fill="#000"/><circle cx="420.81" cy="48.98" r="2.1" fill="#000"/><circle cx="420.58" cy="48.81" r="2.1" fill="#000"/><circle cx="420.34" cy="48.68" r="2.1" fill="#000"/><circle cx="420.07" cy="48.6" r="2.1" fill="#000"/><circle cx="419.79" cy="48.61" r="2.1" fill="#000"/><circle cx="419.48" cy="48.63" r="2.1" fill="#000"/><circle cx="419.15" cy="48.68" r="2.1" fill="#000"/><circle cx="418.81" cy="48.74" r="2.1" fill="#000"/><circle cx="418.44" cy="48.81" r="2.1" fill="#000"/><circle cx="418.05" cy="48.89" r="2.1" fill="#000"/><circle cx="417.65" cy="48.99" r="2.1" fill="#000"/><circle cx="417.22" cy="49.12" r="2.1" fill="#000"/><circle cx="416.77" cy="49.27" r="2.1" fill="#000"/><circle cx="416.31" cy="49.38" r="2.1" fill="#000"/><circle cx="415.82" cy="49.4" r="2.1" fill="#000"/><circle cx="415.31" cy="49.4" r="2.1" fill="#000"/><circle cx="414.78" cy="49.4" r="2.1" fill="#000"/><circle cx="414.23" cy="49.4" r="2.1" fill="#000"/><circle cx="413.66" cy="49.38" r="2.1" fill="#000"/><circle cx="413.07" cy="49.23" r="2.1" fill="#000"/>
<path d="M419.8 226.81h4.4M422 224.61v4.4M419.79 226.6h4.4M421.99 224.4v4.4M419.76 226.71h4.4M421.96 224.51v4.4M419.71 226.38h4.4M421.91 224.18v4.4M419.64 226.36h4.4M421.84 224.16v4.4M419.55 226.43h4.4M421.75 224.23v4.4M419.45 226.47h4.4M421.65 224.27v4.4M419.32 226.6h4.4M421.52 224.4v4.4M419.17 226.53h4.4M421.37 224.33v4.4M419 226.4h4.4M421.2 224.2v4.4M418.82 226.3h4.4M421.02 224.1v4.4M418.61 226.37h4.4M420.81 224.17v4.4M418.38 226.68h4.4M420.58 224.48v4.4M418.14 226.31h4.4M420.34 224.11v4.4M417.87 226.49h4.4M420.07 224.29v4.4M417.59 226.52h4.4M419.79 224.32v4.4M417.28 226.16h4.4M419.48 223.96v4.4M416.95 226.43h4.4M419.15 224.23v4.4M416.61 226.65h4.4M418.81 224.45v4.4M416.24 226.04h4.4M418.44 223.84v4.4M415.85 226.33h4.4M418.05 224.13v4.4M415.45 226.36h4.4M417.65 224.16v4.4M415.02 226.22h4.4M417.22 224.02v4.4M414.57 226.45h4.4M416.77 224.25v4.4M414.11 226.33h4.4M416.31 224.13v4.4M413.62 226.07h4.4M415.82 223.87v4.4M413.11 226.47h4.4M415.31 224.27v4.4M412.58 226.42h4.4M414.78 224.22v4.4M412.03 226.46h4.4M414.23 224.26v4.4M411.46 226.53h4.4M413.66 224.33v4.4M410.87 226.32h4.4M413.07 224.12v4.4M410.25 226.26h4.4M412.45 224.06v4.4M409.62 225.99h4.4M411.82 223.79v4.4M408.96 226.32h4.4M411.16 224.12v4.4M408.29 226.08h4.4M410.49 223.88v4.4M407.59 226.08h4.4M409.79 223.88v4.4M406.87 225.92h4.4M409.07 223.72v4.4M406.13 225.95h4.4M408.33 223.75v4.4M405.37 226.01h4.4M407.57 223.81v4.4M404.58 226.31h4.4M406.78 224.11v4.4M403.77 225.69h4.4M405.97 223.49v4.4M402.95 225.77h4.4M405.15 223.57v4.4M402.09 226.05h4.4M404.29 223.85v4.4M401.22 226.24h4.4M403.42 224.04v4.4M400.32 226.06h4.4M402.52 223.86v4.4M399.4 225.59h4.4M401.6 223.39v4.4M398.46 225.45h4.4M400.66 223.25v4.4M397.5 225.94h4.4M399.7 223.74v4.4M396.51 225.72h4.4M398.71 223.52v4.4M395.49 225.62h4.4M397.69 223.42v4.4M394.46 225.98h4.4M396.66 223.78v4.4M393.4 225.98h4.4M395.6 223.78v4.4M392.31 225.81h4.4M394.51 223.61v4.4M391.2 225.83h4.4M393.4 223.63v4.4M390.07 225.88h4.4M392.27 223.68v4.4M388.91 226.11h4.4M391.11 223.91v4.4M387.73 225.95h4.4M389.93 223.75v4.4M386.52 225.92h4.4M388.72 223.72v4.4M385.29 225.89h4.4M387.49 223.69v4.4M384.03 225.42h4.4M386.23 223.22v4.4M382.74 225.82h4.4M384.94 223.62v4.4M381.43 225.62h4.4M383.63 223.42v4.4M380.09 225.41h4.4M382.29 223.21v4.4M378.73 224.82h4.4M380.93 222.62v4.4M377.33 224.94h4.4M379.53 222.74v4.4M375.91 225.09h4.4M378.11 222.89v4.4M374.47 224.5h4.4M376.67 222.3v4.4M372.99 224.69h4.4M375.19 222.49v4.4M371.49 224.83h4.4M373.69 222.63v4.4M369.95 224.35h4.4M372.15 222.15v4.4M368.39 224.85h4.4M370.59 222.65v4.4M366.8 224.65h4.4M369 222.45v4.4M365.17 224.55h4.4M367.37 222.35v4.4M363.52 224.67h4.4M365.72 222.47v4.4M361.83 224.76h4.4M364.03 222.56v4.4M360.12 224.7h4.4M362.32 222.5v4.4M358.37 224.9h4.4M360.57 222.7v4.4M356.59 224.58h4.4M358.79 222.38v4.4M354.78 224.63h4.4M356.98 222.43v4.4M352.93 224.91h4.4M355.13 222.71v4.4M351.05 224.73h4.4M353.25 222.53v4.4M349.13 224.56h4.4M351.33 222.36v4.4M347.18 224.85h4.4M349.38 222.65v4.4M345.19 224.85h4.4M347.39 222.65v4.4M343.17 224.39h4.4M345.37 222.19v4.4M341.11 224.11h4.4M343.31 221.91v4.4M339.01 224.24h4.4M341.21 222.04v4.4M336.87 224.15h4.4M339.07 221.95v4.4M334.7 224.05h4.4M336.9 221.85v4.4M332.48 224.28h4.4M334.68 222.08v4.4M330.22 223.77h4.4M332.42 221.57v4.4M327.92 224.1h4.4M330.12 221.9v4.4M325.57 223.56h4.4M327.77 221.36v4.4M323.19 223.56h4.4M325.39 221.36v4.4M320.75 223.73h4.4M322.95 221.53v4.4M318.27 223.72h4.4M320.47 221.52v4.4M315.74 223.58h4.4M317.94 221.38v4.4M313.17 223.39h4.4M315.37 221.19v4.4M310.54 223.25h4.4M312.74 221.05v4.4M307.86 223.14h4.4M310.06 220.94v4.4M305.13 223.11h4.4M307.33 220.91v4.4M302.35 222.86h4.4M304.55 220.66v4.4M299.51 222.82h4.4M301.71 220.62v4.4M296.61 222.75h4.4M298.81 220.55v4.4M293.65 222.52h4.4M295.85 220.32v4.4M290.63 222.52h4.4M292.83 220.32v4.4M287.54 222.33h4.4M289.74 220.13v4.4M284.39 222.44h4.4M286.59 220.24v4.4M281.18 221.98h4.4M283.38 219.78v4.4M277.89 221.68h4.4M280.09 219.48v4.4M274.52 221.52h4.4M276.72 219.32v4.4M271.08 221.41h4.4M273.28 219.21v4.4M267.56 221.4h4.4M269.76 219.2v4.4M263.96 220.99h4.4M266.16 218.79v4.4M260.27 220.93h4.4M262.47 218.73v4.4M256.49 220.99h4.4M258.69 218.79v4.4M252.61 220h4.4M254.81 217.8v4.4M248.63 220.04h4.4M250.83 217.84v4.4M244.55 220.07h4.4M246.75 217.87v4.4M240.35 219.86h4.4M242.55 217.66v4.4M236.03 219.59h4.4M238.23 217.39v4.4M231.59 219.22h4.4M233.79 217.02v4.4M227.01 219.16h4.4M229.21 216.96v4.4M222.3 218.82h4.4M224.5 216.62v4.4M217.42 218.41h4.4M219.62 216.21v4.4M212.38 218.36h4.4M214.58 216.16v4.4M207.16 217.97h4.4M209.36 215.77v4.4M201.75 217.61h4.4M203.95 215.41v4.4M196.13 217.29h4.4M198.33 215.09v4.4M190.27 216.88h4.4M192.47 214.68v4.4M184.15 216.45h4.4M186.35 214.25v4.4M177.74 215.84h4.4M179.94 213.64v4.4M171 215.49h4.4M173.2 213.29v4.4M163.88 215.09h4.4M166.08 212.89v4.4M156.34 214.47h4.4M158.54 212.27v4.4M148.28 213.99h4.4M150.48 211.79v4.4M139.61 213.48h4.4M141.81 211.28v4.4M130.17 212.85h4.4M132.37 210.65v4.4M119.74 212.13h4.4M121.94 209.93v4.4M107.97 210.93h4.4M110.17 208.73v4.4M94.2 209.05h4.4M96.4 206.85v4.4M163.5 215h4.4M165.7 212.8v4.4M419.79 226.33h4.4M421.99 224.13v4.4M419.76 226.5h4.4M421.96 224.3v4.4M419.71 226.59h4.4M421.91 224.39v4.4M419.64 225.91h4.4M421.84 223.71v4.4M419.55 226.58h4.4M421.75 224.38v4.4M419.45 226.13h4.4M421.65 223.93v4.4M419.32 226.51h4.4M421.52 224.31v4.4M419.17 226.12h4.4M421.37 223.92v4.4M419 226.42h4.4M421.2 224.22v4.4M418.82 226.6h4.4M421.02 224.4v4.4M418.61 226.35h4.4M420.81 224.15v4.4M418.38 226.41h4.4M420.58 224.21v4.4M418.14 226.52h4.4M420.34 224.32v4.4M417.87 226.4h4.4M420.07 224.2v4.4M417.59 226.35h4.4M419.79 224.15v4.4M417.28 226.64h4.4M419.48 224.44v4.4M416.95 226.55h4.4M419.15 224.35v4.4M416.61 226.31h4.4M418.81 224.11v4.4M416.24 226.85h4.4M418.44 224.65v4.4M415.85 226.15h4.4M418.05 223.95v4.4M415.45 226.52h4.4M417.65 224.32v4.4M415.02 226.3h4.4M417.22 224.1v4.4M414.57 226.37h4.4M416.77 224.17v4.4M414.11 226.47h4.4M416.31 224.27v4.4M413.62 226.37h4.4M415.82 224.17v4.4M413.11 226.45h4.4M415.31 224.25v4.4M412.58 226.05h4.4M414.78 223.85v4.4M412.03 226.05h4.4M414.23 223.85v4.4M411.46 226.43h4.4M413.66 224.23v4.4M410.87 226.14h4.4M413.07 223.94v4.4" stroke="#ff0000" stroke-width="0.4" fill="none"/>
<path d="M422 157.29L424.15 161.27H419.85ZM421.99 156.96L424.14 160.94H419.84ZM421.96 158.82L424.11 162.8H419.81ZM421.91 158.37L424.06 162.34H419.76ZM421.84 158.75L423.99 162.73H419.69ZM421.75 156.91L423.9 160.89H419.6ZM421.65 157.41L423.8 161.39H419.5ZM421.52 156.45L423.67 160.43H419.37ZM421.37 157.59L423.52 161.57H419.22ZM421.2 157.94L423.35 161.92H419.05ZM421.02 155.95L423.17 159.93H418.87ZM420.81 157.41L422.96 161.38H418.66ZM420.58 156.76L422.73 160.74H418.43ZM420.34 155.74L422.49 159.72H418.19ZM420.07 154.38L422.22 158.35H417.92ZM419.79 156.77L421.94 160.74H417.64ZM419.48 155.85L421.63 159.83H417.33ZM419.15 155.74L421.3 159.72H417ZM418.81 156.75L420.96 160.73H416.66ZM418.44 157.1L420.59 161.08H416.29ZM418.05 158.25L420.2 162.23H415.9ZM417.65 157L419.8 160.98H415.5ZM417.22 159.09L419.37 163.07H415.07ZM416.77 159.92L418.92 163.9H414.62ZM416.31 160.51L418.46 164.49H414.16ZM415.82 160.02L417.97 163.99H413.67ZM415.31 160.22L417.46 164.2H413.16ZM414.78 162L416.93 165.98H412.63ZM414.23 161.91L416.38 165.88H412.08ZM413.66 162.14L415.81 166.11H411.51ZM413.07 162.85L415.22 166.82H410.92ZM412.45 161.25L414.6 165.23H410.3ZM411.82 159.33L413.97 163.31H409.67ZM411.16 159.99L413.31 163.97H409.01ZM410.49 158.24L412.64 162.22H408.34ZM409.79 159.42L411.94 163.4H407.64ZM409.07 158.36L411.22 162.34H406.92ZM408.33 157.01L410.48 160.99H406.18ZM407.57 156.77L409.72 160.75H405.42ZM406.78 156.72L408.93 160.69H404.63ZM405.97 155.57L408.12 159.55H403.82ZM405.15 155.88L407.3 159.86H403ZM404.29 154.39L406.44 158.37H402.14ZM403.42 154.68L405.57 158.66H401.27ZM402.52 154.55L404.67 158.52H400.37ZM401.6 154.2L403.75 158.18H399.45ZM400.66 152.2L402.81 156.18H398.51ZM399.7 152.91L401.85 156.89H397.55ZM398.71 150.64L400.86 154.62H396.56ZM397.69 150.89L399.84 154.87H395.54ZM396.66 149.99L398.81 153.97H394.51ZM395.6 151.85L397.75 155.82H393.45ZM394.51 149.93L396.66 153.9H392.36ZM393.4 150.51L395.55 154.49H391.25ZM392.27 150.34L394.42 154.32H390.12ZM391.11 150.82L393.26 154.79H388.96ZM389.93 151.02L392.08 155H387.78ZM388.72 152.21L390.87 156.19H386.57ZM387.49 154.05L389.64 158.03H385.34ZM386.23 153.74L388.38 157.71H384.08ZM384.94 155.38L387.09 159.36H382.79ZM383.63 157.05L385.78 161.02H381.48ZM382.29 157.29L384.44 161.27H380.14ZM380.93 157.17L383.08 161.15H378.78ZM379.53 157.03L381.68 161.01H377.38ZM378.11 156.98L380.26 160.96H375.96ZM376.67 153.9L378.82 157.88H374.52ZM375.19 153.5L377.34 157.47H373.04ZM373.69 154.11L375.84 158.09H371.54ZM372.15 153.68L374.3 157.66H370ZM370.59 152.98L372.74 156.96H368.44ZM369 153.44L371.15 157.42H366.85ZM367.37 152.94L369.52 156.91H365.22ZM365.72 151.95L367.87 155.93H363.57ZM364.03 151.56L366.18 155.54H361.88ZM362.32 152.01L364.47 155.99H360.17ZM360.57 153.44L362.72 157.42H358.42ZM358.79 153.13L360.94 157.1H356.64ZM356.98 153.48L359.13 157.46H354.83ZM355.13 154.34L357.28 158.31H352.98ZM353.25 154.95L355.4 158.92H351.1ZM351.33 157.21L353.48 161.19H349.18ZM349.38 157.84L351.53 161.82H347.23ZM347.39 160.35L349.54 164.33H345.24ZM345.37 159.96L347.52 163.94H343.22ZM343.31 163.06L345.46 167.03H341.16ZM341.21 163.31L343.36 167.29H339.06ZM339.07 162.49L341.22 166.47H336.92ZM336.9 164.36L339.05 168.33H334.75ZM334.68 163.61L336.83 167.59H332.53ZM332.42 162.04L334.57 166.02H330.27ZM330.12 162.83L332.27 166.81H327.97ZM327.77 163.56L329.92 167.54H325.62ZM325.39 162.97L327.54 166.95H323.24ZM322.95 163.8L325.1 167.78H320.8ZM320.47 163.79L322.62 167.76H318.32ZM317.94 163.8L320.09 167.77H315.79ZM315.37 163.67L317.52 167.65H313.22ZM312.74 164.72L314.89 168.7H310.59ZM310.06 164.72L312.21 168.7H307.91ZM307.33 164.67L309.48 168.64H305.18ZM304.55 162.89L306.7 166.87H302.4ZM301.71 164.98L303.86 168.96H299.56ZM298.81 165.78L300.96 169.75H296.66ZM295.85 164.68L298 168.66H293.7ZM292.83 164.13L294.98 168.11H290.68ZM289.74 167.01L291.89 170.99H287.59ZM286.59 164.02L288.74 168H284.44ZM283.38 164.85L285.53 168.83H281.23ZM280.09 166.5L282.24 170.48H277.94ZM276.72 164.5L278.87 168.48H274.57ZM273.28 165.91L275.43 169.88H271.13ZM269.76 167.36L271.91 171.34H267.61ZM266.16 166.07L268.31 170.04H264.01ZM262.47 168.71L264.62 172.69H260.32ZM258.69 169.35L260.84 173.32H256.54ZM254.81 167.77L256.96 171.74H252.66ZM250.83 169.8L252.98 173.77H248.68ZM246.75 169.06L248.9 173.04H244.6ZM242.55 173.36L244.7 177.34H240.4ZM238.23 170.52L240.38 174.5H236.08ZM233.79 170.45L235.94 174.43H231.64ZM229.21 173.32L231.36 177.3H227.06ZM224.5 174.92L226.65 178.89H222.35ZM219.62 176.76L221.77 180.74H217.47ZM214.58 176.96L216.73 180.93H212.43ZM209.36 178.28L211.51 182.26H207.21ZM203.95 179.63L206.1 183.61H201.8ZM198.33 181.12L200.48 185.1H196.18ZM192.47 184.07L194.62 188.05H190.32ZM186.35 183.43L188.5 187.4H184.2ZM179.94 185.16L182.09 189.13H177.79ZM173.2 188.48L175.35 192.46H171.05ZM166.08 188.45L168.23 192.43H163.93ZM158.54 189.95L160.69 193.92H156.39ZM150.48 193.48L152.63 197.45H148.33ZM141.81 195.33L143.96 199.3H139.66ZM132.37 196.01L134.52 199.99H130.22ZM121.94 197.46L124.09 201.44H119.79ZM110.17 198.68L112.32 202.66H108.02ZM96.4 198.91L98.55 202.89H94.25ZM165.7 187.15L167.85 191.13H163.55ZM165.7 191.05L167.85 195.03H163.55ZM421.99 160.76L424.14 164.74H419.84ZM421.96 162.19L424.11 166.17H419.81ZM421.91 162.55L424.06 166.53H419.76ZM421.84 160.33L423.99 164.3H419.69ZM421.75 160.87L423.9 164.85H419.6ZM421.65 161.59L423.8 165.56H419.5ZM421.52 161.56L423.67 165.54H419.37ZM421.37 161.21L423.52 165.19H419.22ZM421.2 160.88L423.35 164.86H419.05ZM421.02 163.12L423.17 167.09H418.87ZM420.81 162.43L422.96 166.41H418.66ZM420.58 160.93L422.73 164.91H418.43ZM420.34 160.88L422.49 164.86H418.19ZM420.07 163.04L422.22 167.02H417.92ZM419.79 162.49L421.94 166.47H417.64ZM419.48 162.84L421.63 166.82H417.33ZM419.15 161.74L421.3 165.72H417ZM418.81 160.03L420.96 164.01H416.66ZM418.44 160.21L420.59 164.19H416.29ZM418.05 157.92L420.2 161.89H415.9ZM417.65 158.24L419.8 162.22H415.5ZM417.22 157.86L419.37 161.84H415.07ZM416.77 157.4L418.92 161.37H414.62ZM416.31 155.88L418.46 159.86H414.16ZM415.82 156.17L417.97 160.14H413.67ZM415.31 156.63L417.46 160.61H413.16ZM414.78 156.68L416.93 160.66H412.63ZM414.23 157.02L416.38 161H412.08ZM413.66 156.95L415.81 160.92H411.51ZM413.07 157L415.22 160.98H410.92Z" stroke="#00ff00" stroke-width="0.4" fill="none"/>
<path d="M420.05 235.9h3.9v3.9h-3.9ZM420.04 235.29h3.9v3.9h-3.9ZM420.01 234.54h3.9v3.9h-3.9ZM419.96 234.62h3.9v3.9h-3.9ZM419.89 235.02h3.9v3.9h-3.9ZM419.8 234.82h3.9v3.9h-3.9ZM419.7 234.93h3.9v3.9h-3.9ZM419.57 234.75h3.9v3.9h-3.9ZM419.42 234.9h3.9v3.9h-3.9ZM419.25 234.7h3.9v3.9h-3.9ZM419.07 233.89h3.9v3.9h-3.9ZM418.86 235.36h3.9v3.9h-3.9ZM418.63 236.03h3.9v3.9h-3.9ZM418.39 235.77h3.9v3.9h-3.9ZM418.12 235.69h3.9v3.9h-3.9ZM417.84 236.79h3.9v3.9h-3.9ZM417.53 236.39h3.9v3.9h-3.9ZM417.2 236.74h3.9v3.9h-3.9ZM416.86 239.52h3.9v3.9h-3.9ZM416.49 239.68h3.9v3.9h-3.9ZM416.1 241.88h3.9v3.9h-3.9ZM415.7 240.78h3.9v3.9h-3.9ZM415.27 239.32h3.9v3.9h-3.9ZM414.82 240.19h3.9v3.9h-3.9ZM414.36 241.71h3.9v3.9h-3.9ZM413.87 239.41h3.9v3.9h-3.9ZM413.36 237.9h3.9v3.9h-3.9ZM412.83 237.6h3.9v3.9h-3.9ZM412.28 237.83h3.9v3.9h-3.9ZM411.71 237.07h3.9v3.9h-3.9ZM411.12 236.05h3.9v3.9h-3.9ZM410.5 236.39h3.9v3.9h-3.9ZM409.87 235.27h3.9v3.9h-3.9ZM409.21 234.36h3.9v3.9h-3.9ZM408.54 234.6h3.9v3.9h-3.9ZM407.84 235.24h3.9v3.9h-3.9ZM407.12 234.53h3.9v3.9h-3.9ZM406.38 234.41h3.9v3.9h-3.9ZM405.62 232.61h3.9v3.9h-3.9ZM404.83 233.33h3.9v3.9h-3.9ZM404.02 234.07h3.9v3.9h-3.9ZM403.2 233.33h3.9v3.9h-3.9ZM402.34 234.54h3.9v3.9h-3.9ZM401.47 234.48h3.9v3.9h-3.9ZM400.57 235.25h3.9v3.9h-3.9ZM399.65 235.22h3.9v3.9h-3.9ZM398.71 238.83h3.9v3.9h-3.9ZM397.75 238.98h3.9v3.9h-3.9ZM396.76 238.8h3.9v3.9h-3.9ZM395.74 239.09h3.9v3.9h-3.9ZM394.71 240.95h3.9v3.9h-3.9ZM393.65 238.22h3.9v3.9h-3.9ZM392.56 238.56h3.9v3.9h-3.9ZM391.45 238.01h3.9v3.9h-3.9ZM390.32 236.56h3.9v3.9h-3.9ZM389.16 234.97h3.9v3.9h-3.9ZM387.98 235.44h3.9v3.9h-3.9ZM386.77 234.99h3.9v3.9h-3.9ZM385.54 235.2h3.9v3.9h-3.9ZM384.28 234.65h3.9v3.9h-3.9ZM382.99 233.85h3.9v3.9h-3.9ZM381.68 234.42h3.9v3.9h-3.9ZM380.34 234.12h3.9v3.9h-3.9ZM378.98 233.82h3.9v3.9h-3.9ZM377.58 233.76h3.9v3.9h-3.9ZM376.16 233.97h3.9v3.9h-3.9ZM374.72 235.33h3.9v3.9h-3.9ZM373.24 234.65h3.9v3.9h-3.9ZM371.74 235.79h3.9v3.9h-3.9ZM370.2 236.77h3.9v3.9h-3.9ZM368.64 235.88h3.9v3.9h-3.9ZM367.05 236.91h3.9v3.9h-3.9ZM365.42 235.79h3.9v3.9h-3.9ZM363.77 236.98h3.9v3.9h-3.9ZM362.08 238.08h3.9v3.9h-3.9ZM360.37 238.1h3.9v3.9h-3.9ZM358.62 237.54h3.9v3.9h-3.9ZM356.84 237.29h3.9v3.9h-3.9ZM355.03 236.22h3.9v3.9h-3.9ZM353.18 238.66h3.9v3.9h-3.9ZM351.3 237.44h3.9v3.9h-3.9ZM349.38 237.76h3.9v3.9h-3.9ZM347.43 236.14h3.9v3.9h-3.9ZM345.44 236.7h3.9v3.9h-3.9ZM343.42 235.39h3.9v3.9h-3.9ZM341.36 237.47h3.9v3.9h-3.9ZM339.26 237.6h3.9v3.9h-3.9ZM337.12 235.36h3.9v3.9h-3.9ZM334.95 237.03h3.9v3.9h-3.9ZM332.73 237.87h3.9v3.9h-3.9ZM330.47 236.19h3.9v3.9h-3.9ZM328.17 236.37h3.9v3.9h-3.9ZM325.82 237.19h3.9v3.9h-3.9ZM323.44 237.64h3.9v3.9h-3.9ZM321 237.01h3.9v3.9h-3.9ZM318.52 238.09h3.9v3.9h-3.9ZM315.99 238.19h3.9v3.9h-3.9ZM313.42 238.46h3.9v3.9h-3.9ZM310.79 238.56h3.9v3.9h-3.9ZM308.11 239.31h3.9v3.9h-3.9ZM305.38 239.04h3.9v3.9h-3.9ZM302.6 236.06h3.9v3.9h-3.9ZM299.76 237.39h3.9v3.9h-3.9ZM296.86 237.25h3.9v3.9h-3.9ZM293.9 236.89h3.9v3.9h-3.9ZM290.88 236.85h3.9v3.9h-3.9ZM287.79 235.99h3.9v3.9h-3.9ZM284.64 235.47h3.9v3.9h-3.9ZM281.43 233.25h3.9v3.9h-3.9ZM278.14 234.56h3.9v3.9h-3.9ZM274.77 234.46h3.9v3.9h-3.9ZM271.33 236.16h3.9v3.9h-3.9ZM267.81 235.49h3.9v3.9h-3.9ZM264.21 235.6h3.9v3.9h-3.9ZM260.52 234.48h3.9v3.9h-3.9ZM256.74 235.61h3.9v3.9h-3.9ZM252.86 234.37h3.9v3.9h-3.9ZM248.88 234.94h3.9v3.9h-3.9ZM244.8 233.61h3.9v3.9h-3.9ZM240.6 235.2h3.9v3.9h-3.9ZM236.28 232.68h3.9v3.9h-3.9ZM231.84 232.53h3.9v3.9h-3.9ZM227.26 234.26h3.9v3.9h-3.9ZM222.55 232.21h3.9v3.9h-3.9ZM217.67 231.41h3.9v3.9h-3.9ZM212.63 233.05h3.9v3.9h-3.9ZM207.41 230.89h3.9v3.9h-3.9ZM202 233.77h3.9v3.9h-3.9ZM196.38 232.73h3.9v3.9h-3.9ZM190.52 230.79h3.9v3.9h-3.9ZM184.4 232.65h3.9v3.9h-3.9ZM177.99 231.52h3.9v3.9h-3.9ZM171.25 230.49h3.9v3.9h-3.9ZM164.13 230.07h3.9v3.9h-3.9ZM156.59 226.97h3.9v3.9h-3.9ZM148.53 225.42h3.9v3.9h-3.9ZM139.86 222.84h3.9v3.9h-3.9ZM130.42 219.61h3.9v3.9h-3.9ZM119.99 217.03h3.9v3.9h-3.9ZM108.22 217.47h3.9v3.9h-3.9ZM94.45 218.97h3.9v3.9h-3.9ZM163.75 228.95h3.9v3.9h-3.9ZM163.75 230.95h3.9v3.9h-3.9ZM420.04 236.16h3.9v3.9h-3.9ZM420.01 236.96h3.9v3.9h-3.9ZM419.96 236.68h3.9v3.9h-3.9ZM419.89 237.21h3.9v3.9h-3.9ZM419.8 237.66h3.9v3.9h-3.9ZM419.7 237.1h3.9v3.9h-3.9ZM419.57 239.58h3.9v3.9h-3.9ZM419.42 237.87h3.9v3.9h-3.9ZM419.25 239.54h3.9v3.9h-3.9ZM419.07 239.39h3.9v3.9h-3.9ZM418.86 240.89h3.9v3.9h-3.9ZM418.63 238.8h3.9v3.9h-3.9ZM418.39 240.7h3.9v3.9h-3.9ZM418.12 241.83h3.9v3.9h-3.9ZM417.84 241.99h3.9v3.9h-3.9ZM417.53 242.78h3.9v3.9h-3.9ZM417.2 240.18h3.9v3.9h-3.9ZM416.86 239.72h3.9v3.9h-3.9ZM416.49 238.07h3.9v3.9h-3.9ZM416.1 237.29h3.9v3.9h-3.9ZM415.7 236.39h3.9v3.9h-3.9ZM415.27 235.33h3.9v3.9h-3.9ZM414.82 235.41h3.9v3.9h-3.9ZM414.36 233.85h3.9v3.9h-3.9ZM413.87 235.62h3.9v3.9h-3.9ZM413.36 234.17h3.9v3.9h-3.9ZM412.83 235.64h3.9v3.9h-3.9ZM412.28 237.5h3.9v3.9h-3.9ZM411.71 235.65h3.9v3.9h-3.9ZM411.12 235.71h3.9v3.9h-3.9Z" stroke="#0000ff" stroke-width="0.4" fill="none"/>
<path d="M422 140.73L424.15 142.88L422 145.03L419.85 142.88ZM421.99 139.82L424.14 141.97L421.99 144.12L419.84 141.97ZM421.96 139.16L424.11 141.31L421.96 143.46L419.81 141.31ZM421.91 140.03L424.06 142.18L421.91 144.33L419.76 142.18ZM421.84 140.32L423.99 142.47L421.84 144.62L419.69 142.47ZM421.75 140.45L423.9 142.6L421.75 144.75L419.6 142.6ZM421.65 139.3L423.8 141.45L421.65 143.6L419.5 141.45ZM421.52 141.37L423.67 143.52L421.52 145.67L419.37 143.52ZM421.37 141.35L423.52 143.5L421.37 145.65L419.22 143.5ZM421.2 140.09L423.35 142.24L421.2 144.39L419.05 142.24ZM421.02 140.36L423.17 142.51L421.02 144.66L418.87 142.51ZM420.81 139.88L422.96 142.03L420.81 144.18L418.66 142.03ZM420.58 141.46L422.73 143.61L420.58 145.76L418.43 143.61ZM420.34 139.9L422.49 142.05L420.34 144.2L418.19 142.05ZM420.07 141.14L422.22 143.29L420.07 145.44L417.92 143.29ZM419.79 140.36L421.94 142.51L419.79 144.66L417.64 142.51ZM419.48 140.31L421.63 142.46L419.48 144.61L417.33 142.46ZM419.15 141.52L421.3 143.67L419.15 145.82L417 143.67ZM418.81 142.01L420.96 144.16L418.81 146.31L416.66 144.16ZM418.44 140.92L420.59 143.07L418.44 145.22L416.29 143.07ZM418.05 140.36L420.2 142.51L418.05 144.66L415.9 142.51ZM417.65 141.5L419.8 143.65L417.65 145.8L415.5 143.65ZM417.22 140.75L419.37 142.9L417.22 145.05L415.07 142.9ZM416.77 140.95L418.92 143.1L416.77 145.25L414.62 143.1ZM416.31 141.74L418.46 143.89L416.31 146.04L414.16 143.89ZM415.82 141.16L417.97 143.31L415.82 145.46L413.67 143.31ZM415.31 139.5L417.46 141.65L415.31 143.8L413.16 141.65ZM414.78 141.34L416.93 143.49L414.78 145.64L412.63 143.49ZM414.23 138.97L416.38 141.12L414.23 143.27L412.08 141.12ZM413.66 138.81L415.81 140.96L413.66 143.11L411.51 140.96ZM413.07 136.8L415.22 138.95L413.07 141.1L410.92 138.95ZM412.45 136.57L414.6 138.72L412.45 140.87L410.3 138.72ZM411.82 134.57L413.97 136.72L411.82 138.87L409.67 136.72ZM411.16 136.83L413.31 138.98L411.16 141.13L409.01 138.98ZM410.49 136.24L412.64 138.39L410.49 140.54L408.34 138.39ZM409.79 134.21L411.94 136.36L409.79 138.51L407.64 136.36ZM409.07 134.06L411.22 136.21L409.07 138.36L406.92 136.21ZM408.33 134.09L410.48 136.24L408.33 138.39L406.18 136.24ZM407.57 136.5L409.72 138.65L407.57 140.8L405.42 138.65ZM406.78 135.51L408.93 137.66L406.78 139.81L404.63 137.66ZM405.97 136.19L408.12 138.34L405.97 140.49L403.82 138.34ZM405.15 136.23L407.3 138.38L405.15 140.53L403 138.38ZM404.29 136.56L406.44 138.71L404.29 140.86L402.14 138.71ZM403.42 135.88L405.57 138.03L403.42 140.18L401.27 138.03ZM402.52 136.76L404.67 138.91L402.52 141.06L400.37 138.91ZM401.6 135.54L403.75 137.69L401.6 139.84L399.45 137.69ZM400.66 136.54L402.81 138.69L400.66 140.84L398.51 138.69ZM399.7 136.46L401.85 138.61L399.7 140.76L397.55 138.61ZM398.71 136.01L400.86 138.16L398.71 140.31L396.56 138.16ZM397.69 134.93L399.84 137.08L397.69 139.23L395.54 137.08ZM396.66 134.03L398.81 136.18L396.66 138.33L394.51 136.18ZM395.6 134.57L397.75 136.72L395.6 138.87L393.45 136.72ZM394.51 133.97L396.66 136.12L394.51 138.27L392.36 136.12ZM393.4 135.84L395.55 137.99L393.4 140.14L391.25 137.99ZM392.27 135.59L394.42 137.74L392.27 139.89L390.12 137.74ZM391.11 135.29L393.26 137.44L391.11 139.59L388.96 137.44ZM389.93 135.48L392.08 137.63L389.93 139.78L387.78 137.63ZM388.72 135.8L390.87 137.95L388.72 140.1L386.57 137.95ZM387.49 136.08L389.64 138.23L387.49 140.38L385.34 138.23ZM386.23 137.02L388.38 139.17L386.23 141.32L384.08 139.17ZM384.94 137.96L387.09 140.11L384.94 142.26L382.79 140.11ZM383.63 138.47L385.78 140.62L383.63 142.77L381.48 140.62ZM382.29 138.78L384.44 140.93L382.29 143.08L380.14 140.93ZM380.93 140.32L383.08 142.47L380.93 144.62L378.78 142.47ZM379.53 138.58L381.68 140.73L379.53 142.88L377.38 140.73ZM378.11 139.78L380.26 141.93L378.11 144.08L375.96 141.93ZM376.67 142.54L378.82 144.69L376.67 146.84L374.52 144.69ZM375.19 139.09L377.34 141.24L375.19 143.39L373.04 141.24ZM373.69 140.32L375.84 142.47L373.69 144.62L371.54 142.47ZM372.15 140.31L374.3 142.46L372.15 144.61L370 142.46ZM370.59 138.88L372.74 141.03L370.59 143.18L368.44 141.03ZM369 138L371.15 140.15L369 142.3L366.85 140.15ZM367.37 137.08L369.52 139.23L367.37 141.38L365.22 139.23ZM365.72 137.38L367.87 139.53L365.72 141.68L363.57 139.53ZM364.03 137.04L366.18 139.19L364.03 141.34L361.88 139.19ZM362.32 137.51L364.47 139.66L362.32 141.81L360.17 139.66ZM360.57 135.26L362.72 137.41L360.57 139.56L358.42 137.41ZM358.79 136.05L360.94 138.2L358.79 140.35L356.64 138.2ZM356.98 136.84L359.13 138.99L356.98 141.14L354.83 138.99ZM355.13 136.18L357.28 138.33L355.13 140.48L352.98 138.33ZM353.25 136.63L355.4 138.78L353.25 140.93L351.1 138.78ZM351.33 138.57L353.48 140.72L351.33 142.87L349.18 140.72ZM349.38 138.33L351.53 140.48L349.38 142.63L347.23 140.48ZM347.39 140.23L349.54 142.38L347.39 144.53L345.24 142.38ZM345.37 141.28L347.52 143.43L345.37 145.58L343.22 143.43ZM343.31 141.94L345.46 144.09L343.31 146.24L341.16 144.09ZM341.21 143.17L343.36 145.32L341.21 147.47L339.06 145.32ZM339.07 143.45L341.22 145.6L339.07 147.75L336.92 145.6ZM336.9 142.94L339.05 145.09L336.9 147.24L334.75 145.09ZM334.68 144.35L336.83 146.5L334.68 148.65L332.53 146.5ZM332.42 144.95L334.57 147.1L332.42 149.25L330.27 147.1ZM330.12 144.35L332.27 146.5L330.12 148.65L327.97 146.5ZM327.77 144.77L329.92 146.92L327.77 149.07L325.62 146.92ZM325.39 145.37L327.54 147.52L325.39 149.67L323.24 147.52ZM322.95 143.86L325.1 146.01L322.95 148.16L320.8 146.01ZM320.47 144.34L322.62 146.49L320.47 148.64L318.32 146.49ZM317.94 144.07L320.09 146.22L317.94 148.37L315.79 146.22ZM315.37 140.66L317.52 142.81L315.37 144.96L313.22 142.81ZM312.74 140.52L314.89 142.67L312.74 144.82L310.59 142.67ZM310.06 140.42L312.21 142.57L310.06 144.72L307.91 142.57ZM307.33 143.46L309.48 145.61L307.33 147.76L305.18 145.61ZM304.55 145.1L306.7 147.25L304.55 149.4L302.4 147.25ZM301.71 145.38L303.86 147.53L301.71 149.68L299.56 147.53ZM298.81 145.73L300.96 147.88L298.81 150.03L296.66 147.88ZM295.85 146.69L298 148.84L295.85 150.99L293.7 148.84ZM292.83 146.12L294.98 148.27L292.83 150.42L290.68 148.27ZM289.74 147.03L291.89 149.18L289.74 151.33L287.59 149.18ZM286.59 148.39L288.74 150.54L286.59 152.69L284.44 150.54ZM283.38 149.8L285.53 151.95L283.38 154.1L281.23 151.95ZM280.09 146.79L282.24 148.94L280.09 151.09L277.94 148.94ZM276.72 150.36L278.87 152.51L276.72 154.66L274.57 152.51ZM273.28 152.95L275.43 155.1L273.28 157.25L271.13 155.1ZM269.76 154.78L271.91 156.93L269.76 159.08L267.61 156.93ZM266.16 154.43L268.31 156.58L266.16 158.73L264.01 156.58ZM262.47 154.14L264.62 156.29L262.47 158.44L260.32 156.29ZM258.69 156.35L260.84 158.5L258.69 160.65L256.54 158.5ZM254.81 155.59L256.96 157.74L254.81 159.89L252.66 157.74ZM250.83 156.4L252.98 158.55L250.83 160.7L248.68 158.55ZM246.75 154.36L248.9 156.51L246.75 158.66L244.6 156.51ZM242.55 156.63L244.7 158.78L242.55 160.93L240.4 158.78ZM238.23 156.35L240.38 158.5L238.23 160.65L236.08 158.5ZM233.79 158.69L235.94 160.84L233.79 162.99L231.64 160.84ZM229.21 159.46L231.36 161.61L229.21 163.76L227.06 161.61ZM224.5 159.92L226.65 162.07L224.5 164.22L222.35 162.07ZM219.62 163.62L221.77 165.77L219.62 167.92L217.47 165.77ZM214.58 164.09L216.73 166.24L214.58 168.39L212.43 166.24ZM209.36 165.94L211.51 168.09L209.36 170.24L207.21 168.09ZM203.95 164.86L206.1 167.01L203.95 169.16L201.8 167.01ZM198.33 167.92L200.48 170.07L198.33 172.22L196.18 170.07ZM192.47 171.35L194.62 173.5L192.47 175.65L190.32 173.5ZM186.35 170.44L188.5 172.59L186.35 174.74L184.2 172.59ZM179.94 171.02L182.09 173.17L179.94 175.32L177.79 173.17ZM173.2 172.42L175.35 174.57L173.2 176.72L171.05 174.57ZM166.08 171.54L168.23 173.69L166.08 175.84L163.93 173.69ZM158.54 170.84L160.69 172.99L158.54 175.14L156.39 172.99ZM150.48 172.63L152.63 174.78L150.48 176.93L148.33 174.78ZM141.81 175.02L143.96 177.17L141.81 179.32L139.66 177.17ZM132.37 174.47L134.52 176.62L132.37 178.77L130.22 176.62ZM121.94 176.17L124.09 178.32L121.94 180.47L119.79 178.32ZM110.17 178.17L112.32 180.32L110.17 182.47L108.02 180.32ZM96.4 178.76L98.55 180.91L96.4 183.06L94.25 180.91ZM165.7 169.75L167.85 171.9L165.7 174.05L163.55 171.9ZM165.7 173.15L167.85 175.3L165.7 177.45L163.55 175.3ZM421.99 138.69L424.14 140.84L421.99 142.99L419.84 140.84ZM421.96 138.95L424.11 141.1L421.96 143.25L419.81 141.1ZM421.91 137.53L424.06 139.68L421.91 141.83L419.76 139.68ZM421.84 138.48L423.99 140.63L421.84 142.78L419.69 140.63ZM421.75 137.17L423.9 139.32L421.75 141.47L419.6 139.32ZM421.65 137.8L423.8 139.95L421.65 142.1L419.5 139.95ZM421.52 138.31L423.67 140.46L421.52 142.61L419.37 140.46ZM421.37 138.88L423.52 141.03L421.37 143.18L419.22 141.03ZM421.2 137.32L423.35 139.47L421.2 141.62L419.05 139.47ZM421.02 137.52L423.17 139.67L421.02 141.82L418.87 139.67ZM420.81 137.69L422.96 139.84L420.81 141.99L418.66 139.84ZM420.58 136.3L422.73 138.45L420.58 140.6L418.43 138.45ZM420.34 137.48L422.49 139.63L420.34 141.78L418.19 139.63ZM420.07 136.91L422.22 139.06L420.07 141.21L417.92 139.06ZM419.79 137.76L421.94 139.91L419.79 142.06L417.64 139.91ZM419.48 136.61L421.63 138.76L419.48 140.91L417.33 138.76ZM419.15 136.02L421.3 138.17L419.15 140.32L417 138.17ZM418.81 137.74L420.96 139.89L418.81 142.04L416.66 139.89ZM418.44 138.01L420.59 140.16L418.44 142.31L416.29 140.16ZM418.05 137.41L420.2 139.56L418.05 141.71L415.9 139.56ZM417.65 138.53L419.8 140.68L417.65 142.83L415.5 140.68ZM417.22 137.49L419.37 139.64L417.22 141.79L415.07 139.64ZM416.77 137.07L418.92 139.22L416.77 141.37L414.62 139.22ZM416.31 137.75L418.46 139.9L416.31 142.05L414.16 139.9ZM415.82 135.93L417.97 138.08L415.82 140.23L413.67 138.08ZM415.31 136.44L417.46 138.59L415.31 140.74L413.16 138.59ZM414.78 136.74L416.93 138.89L414.78 141.04L412.63 138.89ZM414.23 137.21L416.38 139.36L414.23 141.51L412.08 139.36ZM413.66 136.21L415.81 138.36L413.66 140.51L411.51 138.36ZM413.07 136.39L415.22 138.54L413.07 140.69L410.92 138.54Z" stroke="#ff00ff" stroke-width="0.4" fill="none"/>
</g>
<circle cx="124.9" cy="41.45" r="2.94" fill="#000"/>
<path d="M138.44 38.13L135.54 38.13L135.26 40.73L135.54 40.44L136.41 40.15L137.28 40.15L138.15 40.44L138.72 41.02L139.01 41.89L139.01 42.47L138.72 43.33L138.15 43.91L137.28 44.2L136.41 44.2L135.54 43.91L135.26 43.62L134.97 43.04M144.22 38.13L141.32 38.13L141.04 40.73L141.32 40.44L142.19 40.15L143.06 40.15L143.93 40.44L144.5 41.02L144.79 41.89L144.79 42.47L144.5 43.33L143.93 43.91L143.06 44.2L142.19 44.2L141.32 43.91L141.04 43.62L140.75 43.04M146.82 39.58L146.82 39.29L147.1 38.71L147.39 38.42L147.97 38.13L149.13 38.13L149.71 38.42L150 38.71L150.28 39.29L150.28 39.86L150 40.44L149.42 41.31L146.53 44.2L150.57 44.2M152.88 43.62L152.6 43.91L152.88 44.2L153.17 43.91L152.88 43.62M156.93 38.13L156.06 38.42L155.49 39.29L155.2 40.73L155.2 41.6L155.49 43.04L156.06 43.91L156.93 44.2L157.51 44.2L158.38 43.91L158.95 43.04L159.24 41.6L159.24 40.73L158.95 39.29L158.38 38.42L157.51 38.13L156.93 38.13M165.89 40.15L165.89 44.2M165.89 41.31L166.76 40.44L167.33 40.15L168.2 40.15L168.78 40.44L169.07 41.31L169.07 44.2M171.38 40.15L171.38 44.2M171.38 41.31L172.25 40.44L172.83 40.15L173.69 40.15L174.27 40.44L174.56 41.31L174.56 44.2M174.56 41.31L175.43 40.44L176 40.15L176.87 40.15L177.45 40.44L177.74 41.31L177.74 44.2M180.63 43.91L180.34 44.2L180.05 43.91L180.34 43.62L180.63 43.91L180.63 44.49L180.34 45.07L180.05 45.36M187.28 38.13L191.32 44.2M187.28 44.2L191.32 38.13M203.17 39.29L203.75 39L204.62 38.13L204.62 44.2M208.66 43.62L208.37 43.91L208.66 44.2L208.95 43.91L208.66 43.62M212.71 38.13L211.84 38.42L211.26 39.29L210.97 40.73L210.97 41.6L211.26 43.04L211.84 43.91L212.71 44.2L213.29 44.2L214.15 43.91L214.73 43.04L215.02 41.6L215.02 40.73L214.73 39.29L214.15 38.42L213.29 38.13L212.71 38.13" stroke="#2a2a2a" stroke-width="0.56" fill="none" stroke-linecap="round" stroke-linejoin="round"/>
<path d="M121.71 54.5h6.38M124.9 51.31v6.38" stroke="#ff0000" stroke-width="0.5" fill="none"/>
<path d="M138.72 52.05L138.44 51.47L137.57 51.18L136.99 51.18L136.12 51.47L135.54 52.34L135.26 53.78L135.26 55.23L135.54 56.38L136.12 56.96L136.99 57.25L137.28 57.25L138.15 56.96L138.72 56.38L139.01 55.52L139.01 55.23L138.72 54.36L138.15 53.78L137.28 53.49L136.99 53.49L136.12 53.78L135.54 54.36L135.26 55.23M141.04 52.63L141.04 52.34L141.32 51.76L141.61 51.47L142.19 51.18L143.35 51.18L143.93 51.47L144.22 51.76L144.5 52.34L144.5 52.91L144.22 53.49L143.64 54.36L140.75 57.25L144.79 57.25M148.26 51.18L147.39 51.47L146.82 52.34L146.53 53.78L146.53 54.65L146.82 56.09L147.39 56.96L148.26 57.25L148.84 57.25L149.71 56.96L150.28 56.09L150.57 54.65L150.57 53.78L150.28 52.34L149.71 51.47L148.84 51.18L148.26 51.18M152.88 56.67L152.6 56.96L152.88 57.25L153.17 56.96L152.88 56.67M156.93 51.18L156.06 51.47L155.49 52.34L155.2 53.78L155.2 54.65L155.49 56.09L156.06 56.96L156.93 57.25L157.51 57.25L158.38 56.96L158.95 56.09L159.24 54.65L159.24 53.78L158.95 52.34L158.38 51.47L157.51 51.18L156.93 51.18M165.89 53.2L165.89 57.25M165.89 54.36L166.76 53.49L167.33 53.2L168.2 53.2L168.78 53.49L169.07 54.36L169.07 57.25M171.38 53.2L171.38 57.25M171.38 54.36L172.25 53.49L172.83 53.2L173.69 53.2L174.27 53.49L174.56 54.36L174.56 57.25M174.56 54.36L175.43 53.49L176 53.2L176.87 53.2L177.45 53.49L177.74 54.36L177.74 57.25M180.63 56.96L180.34 57.25L180.05 56.96L180.34 56.67L180.63 56.96L180.63 57.54L180.34 58.12L180.05 58.41M187.28 51.18L191.32 57.25M187.28 57.25L191.32 51.18M203.17 52.34L203.75 52.05L204.62 51.18L204.62 57.25M208.66 56.67L208.37 56.96L208.66 57.25L208.95 56.96L208.66 56.67M212.71 51.18L211.84 51.47L211.26 52.34L210.97 53.78L210.97 54.65L211.26 56.09L211.84 56.96L212.71 57.25L213.29 57.25L214.15 56.96L214.73 56.09L215.02 54.65L215.02 53.78L214.73 52.34L214.15 51.47L213.29 51.18L212.71 51.18" stroke="#ff0000" stroke-width="0.47" fill="none" stroke-linecap="round" stroke-linejoin="round"/>
<path d="M124.9 64.43L128.02 70.2H121.78Z" stroke="#00ff00" stroke-width="0.5" fill="none"/>
<path d="M136.41 64.23L135.54 64.52L135.26 65.1L135.26 65.68L135.54 66.25L136.12 66.54L137.28 66.83L138.15 67.12L138.72 67.7L139.01 68.28L139.01 69.14L138.72 69.72L138.44 70.01L137.57 70.3L136.41 70.3L135.54 70.01L135.26 69.72L134.97 69.14L134.97 68.28L135.26 67.7L135.83 67.12L136.7 66.83L137.86 66.54L138.44 66.25L138.72 65.68L138.72 65.1L138.44 64.52L137.57 64.23L136.41 64.23M141.04 65.68L141.04 65.39L141.32 64.81L141.61 64.52L142.19 64.23L143.35 64.23L143.93 64.52L144.22 64.81L144.5 65.39L144.5 65.96L144.22 66.54L143.64 67.41L140.75 70.3L144.79 70.3M150.28 65.1L150 64.52L149.13 64.23L148.55 64.23L147.68 64.52L147.1 65.39L146.82 66.83L146.82 68.28L147.1 69.43L147.68 70.01L148.55 70.3L148.84 70.3L149.71 70.01L150.28 69.43L150.57 68.57L150.57 68.28L150.28 67.41L149.71 66.83L148.84 66.54L148.55 66.54L147.68 66.83L147.1 67.41L146.82 68.28M152.88 69.72L152.6 70.01L152.88 70.3L153.17 70.01L152.88 69.72M156.64 64.23L155.77 64.52L155.49 65.1L155.49 65.68L155.77 66.25L156.35 66.54L157.51 66.83L158.38 67.12L158.95 67.7L159.24 68.28L159.24 69.14L158.95 69.72L158.66 70.01L157.8 70.3L156.64 70.3L155.77 70.01L155.49 69.72L155.2 69.14L155.2 68.28L155.49 67.7L156.06 67.12L156.93 66.83L158.09 66.54L158.66 66.25L158.95 65.68L158.95 65.1L158.66 64.52L157.8 64.23L156.64 64.23M165.89 66.25L165.89 70.3M165.89 67.41L166.76 66.54L167.33 66.25L168.2 66.25L168.78 66.54L169.07 67.41L169.07 70.3M171.38 66.25L171.38 70.3M171.38 67.41L172.25 66.54L172.83 66.25L173.69 66.25L174.27 66.54L174.56 67.41L174.56 70.3M174.56 67.41L175.43 66.54L176 66.25L176.87 66.25L177.45 66.54L177.74 67.41L177.74 70.3M180.63 70.01L180.34 70.3L180.05 70.01L180.34 69.72L180.63 70.01L180.63 70.59L180.34 71.17L180.05 71.46M187.28 64.23L191.32 70.3M187.28 70.3L191.32 64.23M202.59 65.68L202.59 65.39L202.88 64.81L203.17 64.52L203.75 64.23L204.91 64.23L205.48 64.52L205.77 64.81L206.06 65.39L206.06 65.96L205.77 66.54L205.19 67.41L202.3 70.3L206.35 70.3M208.66 69.72L208.37 70.01L208.66 70.3L208.95 70.01L208.66 69.72M212.71 64.23L211.84 64.52L211.26 65.39L210.97 66.83L210.97 67.7L211.26 69.14L211.84 70.01L212.71 70.3L213.29 70.3L214.15 70.01L214.73 69.14L215.02 67.7L215.02 66.83L214.73 65.39L214.15 64.52L213.29 64.23L212.71 64.23" stroke="#00ff00" stroke-width="0.47" fill="none" stroke-linecap="round" stroke-linejoin="round"/>
<path d="M122.07 77.77h5.65v5.65h-5.65Z" stroke="#0000ff" stroke-width="0.5" fill="none"/>
<path d="M136.41 77.28L135.54 77.57L135.26 78.15L135.26 78.73L135.54 79.3L136.12 79.59L137.28 79.88L138.15 80.17L138.72 80.75L139.01 81.33L139.01 82.19L138.72 82.77L138.44 83.06L137.57 83.35L136.41 83.35L135.54 83.06L135.26 82.77L134.97 82.19L134.97 81.33L135.26 80.75L135.83 80.17L136.7 79.88L137.86 79.59L138.44 79.3L138.72 78.73L138.72 78.15L138.44 77.57L137.57 77.28L136.41 77.28M144.5 79.3L144.22 80.17L143.64 80.75L142.77 81.04L142.48 81.04L141.61 80.75L141.04 80.17L140.75 79.3L140.75 79.02L141.04 78.15L141.61 77.57L142.48 77.28L142.77 77.28L143.64 77.57L144.22 78.15L144.5 79.3L144.5 80.75L144.22 82.19L143.64 83.06L142.77 83.35L142.19 83.35L141.32 83.06L141.04 82.48M148.26 77.28L147.39 77.57L146.82 78.44L146.53 79.88L146.53 80.75L146.82 82.19L147.39 83.06L148.26 83.35L148.84 83.35L149.71 83.06L150.28 82.19L150.57 80.75L150.57 79.88L150.28 78.44L149.71 77.57L148.84 77.28L148.26 77.28M152.88 82.77L152.6 83.06L152.88 83.35L153.17 83.06L152.88 82.77M156.93 77.28L156.06 77.57L155.49 78.44L155.2 79.88L155.2 80.75L155.49 82.19L156.06 83.06L156.93 83.35L157.51 83.35L158.38 83.06L158.95 82.19L159.24 80.75L159.24 79.88L158.95 78.44L158.38 77.57L157.51 77.28L156.93 77.28M165.89 79.3L165.89 83.35M165.89 80.46L166.76 79.59L167.33 79.3L168.2 79.3L168.78 79.59L169.07 80.46L169.07 83.35M171.38 79.3L171.38 83.35M171.38 80.46L172.25 79.59L172.83 79.3L173.69 79.3L174.27 79.59L174.56 80.46L174.56 83.35M174.56 80.46L175.43 79.59L176 79.3L176.87 79.3L177.45 79.59L177.74 80.46L177.74 83.35M180.63 83.06L180.34 83.35L180.05 83.06L180.34 82.77L180.63 83.06L180.63 83.64L180.34 84.22L180.05 84.51M187.28 77.28L191.32 83.35M187.28 83.35L191.32 77.28M205.19 77.28L202.3 81.33L206.64 81.33M205.19 77.28L205.19 83.35M208.66 82.77L208.37 83.06L208.66 83.35L208.95 83.06L208.66 82.77M212.71 77.28L211.84 77.57L211.26 78.44L210.97 79.88L210.97 80.75L211.26 82.19L211.84 83.06L212.71 83.35L213.29 83.35L214.15 83.06L214.73 82.19L215.02 80.75L215.02 79.88L214.73 78.44L214.15 77.57L213.29 77.28L212.71 77.28" stroke="#0000ff" stroke-width="0.47" fill="none" stroke-linecap="round" stroke-linejoin="round"/>
<path d="M124.9 90.53L128.02 93.65L124.9 96.77L121.78 93.65Z" stroke="#ff00ff" stroke-width="0.5" fill="none"/>
<path d="M138.72 92.35L138.44 93.22L137.86 93.8L136.99 94.09L136.7 94.09L135.83 93.8L135.26 93.22L134.97 92.35L134.97 92.06L135.26 91.2L135.83 90.62L136.7 90.33L136.99 90.33L137.86 90.62L138.44 91.2L138.72 92.35L138.72 93.8L138.44 95.24L137.86 96.11L136.99 96.4L136.41 96.4L135.54 96.11L135.26 95.53M141.32 90.33L144.5 90.33L142.77 92.64L143.64 92.64L144.22 92.93L144.5 93.22L144.79 94.09L144.79 94.67L144.5 95.53L143.93 96.11L143.06 96.4L142.19 96.4L141.32 96.11L141.04 95.82L140.75 95.24M150 90.33L147.1 90.33L146.82 92.93L147.1 92.64L147.97 92.35L148.84 92.35L149.71 92.64L150.28 93.22L150.57 94.09L150.57 94.67L150.28 95.53L149.71 96.11L148.84 96.4L147.97 96.4L147.1 96.11L146.82 95.82L146.53 95.24M152.88 95.82L152.6 96.11L152.88 96.4L153.17 96.11L152.88 95.82M155.49 91.78L155.49 91.49L155.77 90.91L156.06 90.62L156.64 90.33L157.8 90.33L158.38 90.62L158.66 90.91L158.95 91.49L158.95 92.06L158.66 92.64L158.09 93.51L155.2 96.4L159.24 96.4M165.89 92.35L165.89 96.4M165.89 93.51L166.76 92.64L167.33 92.35L168.2 92.35L168.78 92.64L169.07 93.51L169.07 96.4M171.38 92.35L171.38 96.4M171.38 93.51L172.25 92.64L172.83 92.35L173.69 92.35L174.27 92.64L174.56 93.51L174.56 96.4M174.56 93.51L175.43 92.64L176 92.35L176.87 92.35L177.45 92.64L177.74 93.51L177.74 96.4M180.63 96.11L180.34 96.4L180.05 96.11L180.34 95.82L180.63 96.11L180.63 96.69L180.34 97.27L180.05 97.56M187.28 90.33L191.32 96.4M187.28 96.4L191.32 90.33M202.59 91.78L202.59 91.49L202.88 90.91L203.17 90.62L203.75 90.33L204.91 90.33L205.48 90.62L205.77 90.91L206.06 91.49L206.06 92.06L205.77 92.64L205.19 93.51L202.3 96.4L206.35 96.4M208.66 95.82L208.37 96.11L208.66 96.4L208.95 96.11L208.66 95.82M212.71 90.33L211.84 90.62L211.26 91.49L210.97 92.93L210.97 93.8L211.26 95.24L211.84 96.11L212.71 96.4L213.29 96.4L214.15 96.11L214.73 95.24L215.02 93.8L215.02 92.93L214.73 91.49L214.15 90.62L213.29 90.33L212.71 90.33" stroke="#ff00ff" stroke-width="0.47" fill="none" stroke-linecap="round" stroke-linejoin="round"/>
<path d="M226.61 52.05L226.03 51.47L225.17 51.18L224.01 51.18L223.14 51.47L222.57 52.05L222.57 52.63L222.86 53.2L223.14 53.49L223.72 53.78L225.46 54.36L226.03 54.65L226.32 54.94L226.61 55.52L226.61 56.38L226.03 56.96L225.17 57.25L224.01 57.25L223.14 56.96L222.57 56.38M228.64 53.2L228.64 57.25M228.64 54.36L229.5 53.49L230.08 53.2L230.95 53.2L231.53 53.49L231.81 54.36L231.81 57.25M231.81 54.36L232.68 53.49L233.26 53.2L234.13 53.2L234.7 53.49L234.99 54.36L234.99 57.25M238.46 53.2L237.88 53.49L237.31 54.07L237.02 54.94L237.02 55.52L237.31 56.38L237.88 56.96L238.46 57.25L239.33 57.25L239.91 56.96L240.48 56.38L240.77 55.52L240.77 54.94L240.48 54.07L239.91 53.49L239.33 53.2L238.46 53.2M243.95 53.2L243.38 53.49L242.8 54.07L242.51 54.94L242.51 55.52L242.8 56.38L243.38 56.96L243.95 57.25L244.82 57.25L245.4 56.96L245.98 56.38L246.26 55.52L246.26 54.94L245.98 54.07L245.4 53.49L244.82 53.2L243.95 53.2M248.58 51.18L248.58 56.09L248.87 56.96L249.44 57.25L250.02 57.25M247.71 53.2L249.73 53.2M251.76 51.18L251.76 57.25M251.76 54.36L252.62 53.49L253.2 53.2L254.07 53.2L254.65 53.49L254.94 54.36L254.94 57.25M261.87 51.18L261.87 57.25M263.89 54.94L267.36 54.94L267.36 54.36L267.07 53.78L266.78 53.49L266.21 53.2L265.34 53.2L264.76 53.49L264.18 54.07L263.89 54.94L263.89 55.52L264.18 56.38L264.76 56.96L265.34 57.25L266.21 57.25L266.78 56.96L267.36 56.38M269.38 53.2L269.38 57.25M269.38 54.36L270.25 53.49L270.83 53.2L271.7 53.2L272.27 53.49L272.56 54.36L272.56 57.25M278.06 53.2L278.06 57.83L277.77 58.7L277.48 58.98L276.9 59.27L276.03 59.27L275.45 58.98M278.06 54.07L277.48 53.49L276.9 53.2L276.03 53.2L275.45 53.49L274.88 54.07L274.59 54.94L274.59 55.52L274.88 56.38L275.45 56.96L276.03 57.25L276.9 57.25L277.48 56.96L278.06 56.38M280.66 51.18L280.66 56.09L280.94 56.96L281.52 57.25L282.1 57.25M279.79 53.2L281.81 53.2M283.83 51.18L283.83 57.25M283.83 54.36L284.7 53.49L285.28 53.2L286.15 53.2L286.73 53.49L287.01 54.36L287.01 57.25M289.33 53.78L294.53 53.78M289.33 55.52L294.53 55.52M301.75 51.18L304.93 51.18L303.2 53.49L304.06 53.49L304.64 53.78L304.93 54.07L305.22 54.94L305.22 55.52L304.93 56.38L304.35 56.96L303.49 57.25L302.62 57.25L301.75 56.96L301.46 56.67L301.17 56.09M310.71 52.05L310.42 51.47L309.56 51.18L308.98 51.18L308.11 51.47L307.53 52.34L307.24 53.78L307.24 55.23L307.53 56.38L308.11 56.96L308.98 57.25L309.27 57.25L310.13 56.96L310.71 56.38L311 55.52L311 55.23L310.71 54.36L310.13 53.78L309.27 53.49L308.98 53.49L308.11 53.78L307.53 54.36L307.24 55.23M313.31 56.67L313.02 56.96L313.31 57.25L313.6 56.96L313.31 56.67M317.36 51.18L316.49 51.47L315.91 52.34L315.62 53.78L315.62 54.65L315.91 56.09L316.49 56.96L317.36 57.25L317.94 57.25L318.8 56.96L319.38 56.09L319.67 54.65L319.67 53.78L319.38 52.34L318.8 51.47L317.94 51.18L317.36 51.18M323.14 51.18L322.27 51.47L321.69 52.34L321.4 53.78L321.4 54.65L321.69 56.09L322.27 56.96L323.14 57.25L323.72 57.25L324.58 56.96L325.16 56.09L325.45 54.65L325.45 53.78L325.16 52.34L324.58 51.47L323.72 51.18L323.14 51.18M335.28 54.07L334.7 53.49L334.12 53.2L333.25 53.2L332.68 53.49L332.1 54.07L331.81 54.94L331.81 55.52L332.1 56.38L332.68 56.96L333.25 57.25L334.12 57.25L334.7 56.96L335.28 56.38M337.3 53.2L337.3 57.25M337.3 54.36L338.17 53.49L338.75 53.2L339.61 53.2L340.19 53.49L340.48 54.36L340.48 57.25M340.48 54.36L341.35 53.49L341.92 53.2L342.79 53.2L343.37 53.49L343.66 54.36L343.66 57.25" stroke="#2a2a2a" stroke-width="0.56" fill="none" stroke-linecap="round" stroke-linejoin="round"/>
<path d="M346.46 51.49L349.37 51.49" stroke="#2a2a2a" stroke-width="0.56" fill="none" stroke-linecap="round" stroke-linejoin="round"/>
<path d="M350.38 50.1L350.72 49.93L351.22 49.43L351.22 52.95" stroke="#2a2a2a" stroke-width="0.56" fill="none" stroke-linecap="round" stroke-linejoin="round"/>
</svg>
</body></html>
